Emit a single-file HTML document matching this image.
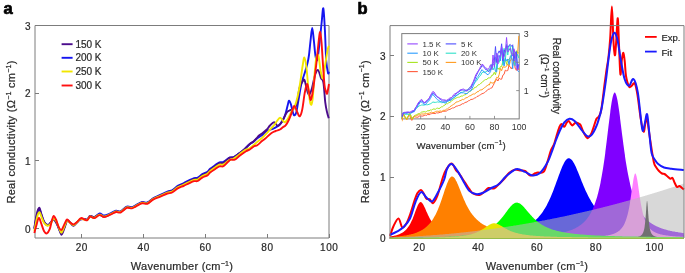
<!DOCTYPE html>
<html><head><meta charset="utf-8"><style>
html,body{margin:0;padding:0;background:#fff;}
svg{display:block;}
text{font-family:"Liberation Sans",sans-serif;fill:#2a2a2a;stroke:#2a2a2a;stroke-width:0.22px;}
.ins text{stroke:none;fill:#333;}
svg{will-change:transform;}
</style></head><body>
<svg width="685" height="273" viewBox="0 0 685 273">
<text x="3.6" y="13.7" style="font-size:16.5px;font-weight:bold;fill:#000;stroke:#000;stroke-width:0.7">a</text>
<g stroke="#7c7c7c" stroke-width="1" fill="none"><path d="M35.0 25.5 H329.0 V238.0 H35.0 Z"/></g>
<g stroke="#7c7c7c" stroke-width="1"><line x1="35.0" y1="228.5" x2="39.0" y2="228.5"/><line x1="35.0" y1="160.5" x2="39.0" y2="160.5"/><line x1="35.0" y1="93.5" x2="39.0" y2="93.5"/><line x1="35.0" y1="25.5" x2="39.0" y2="25.5"/><line x1="81.5" y1="238.0" x2="81.5" y2="234.0"/><line x1="143.5" y1="238.0" x2="143.5" y2="234.0"/><line x1="205.5" y1="238.0" x2="205.5" y2="234.0"/><line x1="267.5" y1="238.0" x2="267.5" y2="234.0"/><line x1="329.5" y1="238.0" x2="329.5" y2="234.0"/></g>
<text x="30.5" y="232.5" text-anchor="end" style="font-size:10px">0</text><text x="30.5" y="164.8" text-anchor="end" style="font-size:10px">1</text><text x="30.5" y="97.2" text-anchor="end" style="font-size:10px">2</text><text x="30.5" y="29.5" text-anchor="end" style="font-size:10px">3</text><text x="81.8" y="251.2" text-anchor="middle" style="font-size:10px;letter-spacing:0.6px">20</text><text x="143.7" y="251.2" text-anchor="middle" style="font-size:10px;letter-spacing:0.6px">40</text><text x="205.6" y="251.2" text-anchor="middle" style="font-size:10px;letter-spacing:0.6px">60</text><text x="267.4" y="251.2" text-anchor="middle" style="font-size:10px;letter-spacing:0.6px">80</text><text x="329.3" y="251.2" text-anchor="middle" style="font-size:10px;letter-spacing:0.6px">100</text>
<text x="182" y="270" text-anchor="middle" style="font-size:11px;letter-spacing:0.25px">Wavenumber (cm<tspan dy="-4.2" style="font-size:7px">−1</tspan><tspan dy="4.2">)</tspan></text>
<text transform="translate(15.0,131.9) rotate(-90)" text-anchor="middle" style="font-size:11px;letter-spacing:0.28px">Real conductivity (Ω<tspan dy="-4.2" style="font-size:7px">−1</tspan><tspan dy="4.2"> cm</tspan><tspan dy="-4.2" style="font-size:7px">−1</tspan><tspan dy="4.2">)</tspan></text>
<path d="M34.30 229.00 C34.50 227.83 34.98 224.67 35.50 222.00 C36.02 219.33 36.73 215.12 37.40 213.00 C38.07 210.88 38.85 209.05 39.50 209.30 C40.15 209.55 40.53 212.38 41.30 214.50 C42.07 216.62 43.05 220.20 44.10 222.00 C45.15 223.80 46.55 225.13 47.60 225.30 C48.65 225.47 49.40 224.05 50.40 223.00 C51.40 221.95 52.55 219.00 53.60 219.00 C54.65 219.00 55.80 221.33 56.70 223.00 C57.60 224.67 58.20 227.33 59.00 229.00 C59.80 230.67 60.62 233.25 61.50 233.00 C62.38 232.75 63.37 229.58 64.30 227.50 C65.23 225.42 66.15 221.33 67.10 220.50 C68.05 219.67 68.95 221.70 70.00 222.50 C71.05 223.30 72.27 225.30 73.40 225.30 C74.53 225.30 75.65 223.50 76.80 222.50 C77.95 221.50 79.02 219.88 80.30 219.30 C81.58 218.72 83.33 218.97 84.50 219.00 C85.67 219.03 86.37 220.00 87.30 219.50 C88.23 219.00 88.95 216.37 90.10 216.00 C91.25 215.63 92.62 217.73 94.20 217.30 C95.78 216.87 97.93 213.71 99.60 213.41 C101.27 213.12 102.40 215.55 104.20 215.54 C106.00 215.53 108.43 214.14 110.40 213.35 C112.37 212.56 114.30 211.14 116.00 210.80 C117.70 210.45 118.80 211.97 120.60 211.28 C122.40 210.60 124.92 207.36 126.80 206.67 C128.68 205.98 130.37 207.42 131.90 207.15 C133.43 206.88 134.28 205.89 136.00 205.04 C137.72 204.19 140.32 202.44 142.20 202.02 C144.08 201.60 145.48 203.15 147.30 202.51 C149.12 201.87 150.93 199.46 153.10 198.20 C155.27 196.94 157.92 196.06 160.30 194.96 C162.68 193.85 165.43 192.34 167.40 191.57 C169.37 190.80 170.38 191.26 172.10 190.32 C173.82 189.38 175.75 187.13 177.70 185.92 C179.65 184.71 181.92 183.98 183.80 183.05 C185.68 182.12 187.28 181.18 189.00 180.34 C190.72 179.50 192.65 178.48 194.10 178.04 C195.55 177.59 196.33 178.35 197.70 177.69 C199.07 177.04 200.68 175.11 202.30 174.12 C203.92 173.12 206.10 172.61 207.40 171.73 C208.70 170.85 208.78 169.95 210.10 168.84 C211.42 167.72 213.75 166.14 215.30 165.05 C216.85 163.96 218.03 162.82 219.40 162.30 C220.77 161.79 221.80 162.72 223.50 161.95 C225.20 161.19 227.90 158.49 229.60 157.70 C231.30 156.91 232.17 157.88 233.70 157.20 C235.23 156.52 237.25 154.72 238.80 153.60 C240.35 152.48 241.17 152.10 243.00 150.50 C244.83 148.90 248.05 145.45 249.80 144.00 C251.55 142.55 252.40 142.65 253.50 141.80 C254.60 140.95 254.98 139.98 256.40 138.90 C257.82 137.82 260.27 136.62 262.00 135.30 C263.73 133.98 265.02 132.08 266.80 131.00 C268.58 129.92 271.00 129.53 272.70 128.80 C274.40 128.07 275.78 127.33 277.00 126.60 C278.22 125.87 278.90 125.75 280.00 124.40 C281.10 123.05 282.63 120.45 283.60 118.50 C284.57 116.55 285.07 115.13 285.80 112.70 C286.53 110.27 287.45 105.92 288.00 103.90 C288.55 101.88 288.60 100.48 289.10 100.60 C289.60 100.72 290.32 102.47 291.00 104.60 C291.68 106.73 292.60 111.62 293.20 113.40 C293.80 115.18 294.07 115.55 294.60 115.30 C295.13 115.05 295.75 114.45 296.40 111.90 C297.05 109.35 297.67 104.68 298.50 100.00 C299.33 95.32 300.32 88.48 301.40 83.80 C302.48 79.12 304.00 75.27 305.00 71.90 C306.00 68.53 306.73 66.42 307.40 63.60 C308.07 60.78 308.47 58.93 309.00 55.00 C309.53 51.07 310.07 44.50 310.60 40.00 C311.13 35.50 311.67 28.00 312.20 28.00 C312.73 28.00 313.25 35.33 313.80 40.00 C314.35 44.67 314.92 52.67 315.50 56.00 C316.08 59.33 316.67 61.83 317.30 60.00 C317.93 58.17 318.60 51.00 319.30 45.00 C320.00 39.00 320.83 30.12 321.50 24.00 C322.17 17.88 322.73 7.30 323.30 8.30 C323.87 9.30 324.42 21.38 324.90 30.00 C325.38 38.62 325.68 52.83 326.20 60.00 C326.72 67.17 327.53 71.08 328.00 73.00 C328.47 74.92 328.83 71.75 329.00 71.50" fill="none" stroke="#1515f0" stroke-width="1.9" stroke-linejoin="round"/>
<path d="M34.30 228.50 C34.50 227.25 34.98 223.83 35.50 221.00 C36.02 218.17 36.73 213.68 37.40 211.50 C38.07 209.32 38.85 207.50 39.50 207.90 C40.15 208.30 40.53 211.62 41.30 213.90 C42.07 216.18 43.05 219.75 44.10 221.60 C45.15 223.45 46.55 224.77 47.60 225.00 C48.65 225.23 49.40 223.92 50.40 223.00 C51.40 222.08 52.55 219.38 53.60 219.50 C54.65 219.62 55.80 222.12 56.70 223.70 C57.60 225.28 58.20 227.15 59.00 229.00 C59.80 230.85 60.62 234.88 61.50 234.80 C62.38 234.72 63.37 230.82 64.30 228.50 C65.23 226.18 66.15 221.90 67.10 220.90 C68.05 219.90 68.95 221.70 70.00 222.50 C71.05 223.30 72.27 225.70 73.40 225.70 C74.53 225.70 75.65 223.53 76.80 222.50 C77.95 221.47 79.02 220.08 80.30 219.50 C81.58 218.92 83.33 219.00 84.50 219.00 C85.67 219.00 86.37 220.00 87.30 219.50 C88.23 219.00 88.95 216.42 90.10 216.00 C91.25 215.58 92.62 217.20 94.20 217.00 C95.78 216.80 97.93 214.83 99.60 214.80 C101.27 214.77 102.40 216.89 104.20 216.80 C106.00 216.71 108.43 215.15 110.40 214.24 C112.37 213.33 114.30 211.77 116.00 211.34 C117.70 210.92 118.80 212.41 120.60 211.70 C122.40 210.99 124.92 207.78 126.80 207.10 C128.68 206.42 130.37 207.87 131.90 207.60 C133.43 207.33 134.28 206.35 136.00 205.50 C137.72 204.65 140.32 202.92 142.20 202.50 C144.08 202.08 145.48 203.63 147.30 203.00 C149.12 202.37 150.93 199.97 153.10 198.74 C155.27 197.50 157.92 196.67 160.30 195.59 C162.68 194.52 165.43 193.05 167.40 192.30 C169.37 191.56 170.38 192.03 172.10 191.12 C173.82 190.20 175.75 187.98 177.70 186.79 C179.65 185.60 181.92 184.88 183.80 183.97 C185.68 183.05 187.28 182.11 189.00 181.29 C190.72 180.46 192.65 179.44 194.10 179.01 C195.55 178.57 196.33 179.33 197.70 178.68 C199.07 178.03 200.68 176.10 202.30 175.11 C203.92 174.11 206.10 173.59 207.40 172.70 C208.70 171.82 208.78 170.92 210.10 169.80 C211.42 168.68 213.75 167.08 215.30 165.99 C216.85 164.89 218.03 163.75 219.40 163.22 C220.77 162.70 221.80 163.78 223.50 162.86 C225.20 161.94 227.90 158.64 229.60 157.70 C231.30 156.76 232.17 157.88 233.70 157.20 C235.23 156.52 237.25 154.72 238.80 153.60 C240.35 152.48 241.17 152.10 243.00 150.50 C244.83 148.90 248.05 145.50 249.80 144.00 C251.55 142.50 252.40 142.42 253.50 141.50 C254.60 140.58 255.48 139.50 256.40 138.50 C257.32 137.50 258.00 136.38 259.00 135.50 C260.00 134.62 261.10 134.20 262.40 133.20 C263.70 132.20 265.53 130.78 266.80 129.50 C268.07 128.22 268.78 126.72 270.00 125.50 C271.22 124.28 272.80 122.15 274.10 122.20 C275.40 122.25 276.45 125.93 277.80 125.80 C279.15 125.67 280.73 123.58 282.20 121.40 C283.67 119.22 285.38 114.52 286.60 112.70 C287.82 110.88 288.40 111.12 289.50 110.50 C290.60 109.88 291.98 110.10 293.20 109.00 C294.42 107.90 295.75 107.40 296.80 103.90 C297.85 100.40 298.53 91.75 299.50 88.00 C300.47 84.25 301.77 82.73 302.60 81.40 C303.43 80.07 303.85 78.90 304.50 80.00 C305.15 81.10 305.75 85.50 306.50 88.00 C307.25 90.50 308.08 95.00 309.00 95.00 C309.92 95.00 311.00 91.33 312.00 88.00 C313.00 84.67 314.00 78.00 315.00 75.00 C316.00 72.00 317.00 69.50 318.00 70.00 C319.00 70.50 320.10 75.92 321.00 78.00 C321.90 80.08 322.68 78.38 323.40 82.50 C324.12 86.62 324.70 97.78 325.30 102.70 C325.90 107.62 326.42 109.40 327.00 112.00 C327.58 114.60 328.50 117.25 328.80 118.30" fill="none" stroke="#4b0c8c" stroke-width="1.9" stroke-linejoin="round"/>
<path d="M34.30 231.00 C34.50 230.00 34.98 227.50 35.50 225.00 C36.02 222.50 36.73 218.13 37.40 216.00 C38.07 213.87 38.82 212.03 39.50 212.20 C40.18 212.37 40.73 215.20 41.50 217.00 C42.27 218.80 43.08 221.55 44.10 223.00 C45.12 224.45 46.55 225.53 47.60 225.70 C48.65 225.87 49.40 225.20 50.40 224.00 C51.40 222.80 52.55 218.83 53.60 218.50 C54.65 218.17 55.80 220.42 56.70 222.00 C57.60 223.58 58.20 226.22 59.00 228.00 C59.80 229.78 60.62 232.95 61.50 232.70 C62.38 232.45 63.37 228.53 64.30 226.50 C65.23 224.47 66.15 221.12 67.10 220.50 C68.05 219.88 68.95 222.05 70.00 222.80 C71.05 223.55 72.27 225.05 73.40 225.00 C74.53 224.95 75.65 223.50 76.80 222.50 C77.95 221.50 79.02 219.50 80.30 219.00 C81.58 218.50 83.33 219.33 84.50 219.50 C85.67 219.67 86.37 220.50 87.30 220.00 C88.23 219.50 88.95 216.87 90.10 216.50 C91.25 216.13 92.62 218.12 94.20 217.80 C95.78 217.48 97.93 214.80 99.60 214.60 C101.27 214.40 102.40 216.67 104.20 216.60 C106.00 216.53 108.43 215.05 110.40 214.20 C112.37 213.35 114.30 211.87 116.00 211.50 C117.70 211.13 118.80 212.68 120.60 212.00 C122.40 211.32 124.92 208.08 126.80 207.40 C128.68 206.72 130.37 208.17 131.90 207.90 C133.43 207.63 134.28 206.65 136.00 205.80 C137.72 204.95 140.32 203.22 142.20 202.80 C144.08 202.38 145.48 203.93 147.30 203.30 C149.12 202.67 150.93 200.28 153.10 199.05 C155.27 197.82 157.92 196.98 160.30 195.93 C162.68 194.87 165.43 193.43 167.40 192.71 C169.37 191.99 170.38 192.51 172.10 191.63 C173.82 190.75 175.75 188.59 177.70 187.44 C179.65 186.28 181.92 185.60 183.80 184.71 C185.68 183.81 187.28 182.88 189.00 182.08 C190.72 181.27 192.65 180.27 194.10 179.85 C195.55 179.43 196.33 180.19 197.70 179.56 C199.07 178.93 200.68 177.03 202.30 176.07 C203.92 175.11 206.10 174.66 207.40 173.81 C208.70 172.96 208.78 172.06 210.10 170.98 C211.42 169.90 213.75 168.37 215.30 167.32 C216.85 166.26 218.03 165.15 219.40 164.67 C220.77 164.18 221.97 165.11 223.50 164.42 C225.03 163.72 226.90 161.49 228.60 160.50 C230.30 159.51 231.90 159.50 233.70 158.50 C235.50 157.50 237.52 155.92 239.40 154.50 C241.28 153.08 243.23 151.08 245.00 150.00 C246.77 148.92 248.17 149.17 250.00 148.00 C251.83 146.83 254.00 144.67 256.00 143.00 C258.00 141.33 260.20 139.63 262.00 138.00 C263.80 136.37 265.38 134.70 266.80 133.20 C268.22 131.70 269.28 130.35 270.50 129.00 C271.72 127.65 273.02 126.43 274.10 125.10 C275.18 123.77 276.02 122.22 277.00 121.00 C277.98 119.78 279.02 117.85 280.00 117.80 C280.98 117.75 282.05 119.97 282.90 120.70 C283.75 121.43 284.25 122.57 285.10 122.20 C285.95 121.83 286.90 120.33 288.00 118.50 C289.10 116.67 290.60 113.15 291.70 111.20 C292.80 109.25 293.63 109.17 294.60 106.80 C295.57 104.43 296.60 100.80 297.50 97.00 C298.40 93.20 299.15 89.17 300.00 84.00 C300.85 78.83 301.87 70.42 302.60 66.00 C303.33 61.58 303.75 57.17 304.40 57.50 C305.05 57.83 305.82 62.58 306.50 68.00 C307.18 73.42 307.83 84.00 308.50 90.00 C309.17 96.00 309.83 102.33 310.50 104.00 C311.17 105.67 311.83 104.83 312.50 100.00 C313.17 95.17 313.85 82.17 314.50 75.00 C315.15 67.83 315.73 60.17 316.40 57.00 C317.07 53.83 317.82 53.83 318.50 56.00 C319.18 58.17 319.77 66.25 320.50 70.00 C321.23 73.75 322.15 79.17 322.90 78.50 C323.65 77.83 324.22 70.75 325.00 66.00 C325.78 61.25 326.93 53.37 327.60 50.00 C328.27 46.63 328.77 46.50 329.00 45.80" fill="none" stroke="#f2e600" stroke-width="1.9" stroke-linejoin="round"/>
<path d="M34.30 233.00 C34.67 231.67 35.75 227.53 36.50 225.00 C37.25 222.47 38.00 218.02 38.80 217.80 C39.60 217.58 40.42 221.45 41.30 223.70 C42.18 225.95 43.17 229.68 44.10 231.30 C45.03 232.92 45.97 233.75 46.90 233.40 C47.83 233.05 48.88 231.28 49.70 229.20 C50.52 227.12 51.15 223.10 51.80 220.90 C52.45 218.70 52.90 216.23 53.60 216.00 C54.30 215.77 55.15 217.65 56.00 219.50 C56.85 221.35 57.78 225.37 58.70 227.10 C59.62 228.83 60.57 230.35 61.50 229.90 C62.43 229.45 63.37 226.13 64.30 224.40 C65.23 222.67 66.17 219.85 67.10 219.50 C68.03 219.15 68.85 221.48 69.90 222.30 C70.95 223.12 72.25 224.40 73.40 224.40 C74.55 224.40 75.53 223.35 76.80 222.30 C78.07 221.25 79.72 218.57 81.00 218.10 C82.28 217.63 83.45 219.15 84.50 219.50 C85.55 219.85 86.37 220.67 87.30 220.20 C88.23 219.73 88.95 217.05 90.10 216.70 C91.25 216.35 92.62 218.37 94.20 218.10 C95.78 217.83 97.93 215.27 99.60 215.10 C101.27 214.93 102.40 217.17 104.20 217.10 C106.00 217.03 108.43 215.55 110.40 214.70 C112.37 213.85 114.30 212.37 116.00 212.00 C117.70 211.63 118.80 213.18 120.60 212.50 C122.40 211.82 124.92 208.58 126.80 207.90 C128.68 207.22 130.37 208.67 131.90 208.40 C133.43 208.13 134.28 207.15 136.00 206.30 C137.72 205.45 140.32 203.72 142.20 203.30 C144.08 202.88 145.48 204.42 147.30 203.80 C149.12 203.18 150.93 200.80 153.10 199.60 C155.27 198.40 157.92 197.62 160.30 196.60 C162.68 195.58 165.43 194.18 167.40 193.50 C169.37 192.82 170.38 193.35 172.10 192.50 C173.82 191.65 175.75 189.52 177.70 188.40 C179.65 187.28 181.92 186.65 183.80 185.80 C185.68 184.95 187.28 184.07 189.00 183.30 C190.72 182.53 192.65 181.58 194.10 181.20 C195.55 180.82 196.33 181.60 197.70 181.00 C199.07 180.40 200.68 178.53 202.30 177.60 C203.92 176.67 206.10 176.23 207.40 175.40 C208.70 174.57 208.78 173.67 210.10 172.60 C211.42 171.53 213.75 170.03 215.30 169.00 C216.85 167.97 218.03 166.87 219.40 166.40 C220.77 165.93 222.13 166.88 223.50 166.20 C224.87 165.52 226.42 163.38 227.60 162.30 C228.78 161.22 229.42 160.13 230.60 159.70 C231.78 159.27 233.15 160.38 234.70 159.70 C236.25 159.02 238.02 157.02 239.90 155.60 C241.78 154.18 244.35 152.22 246.00 151.20 C247.65 150.18 248.43 150.33 249.80 149.50 C251.17 148.67 252.97 146.92 254.20 146.20 C255.43 145.48 255.90 146.05 257.20 145.20 C258.50 144.35 260.65 142.22 262.00 141.10 C263.35 139.98 263.77 139.82 265.30 138.50 C266.83 137.18 269.48 134.45 271.20 133.20 C272.92 131.95 274.13 131.62 275.60 131.00 C277.07 130.38 278.78 130.12 280.00 129.50 C281.22 128.88 281.93 128.03 282.90 127.30 C283.87 126.57 284.82 126.32 285.80 125.10 C286.78 123.88 287.82 122.07 288.80 120.00 C289.78 117.93 290.80 115.03 291.70 112.70 C292.60 110.37 293.27 106.08 294.20 106.00 C295.13 105.92 296.38 110.48 297.30 112.20 C298.22 113.92 298.88 116.72 299.70 116.30 C300.52 115.88 301.37 113.55 302.20 109.70 C303.03 105.85 303.90 97.48 304.70 93.20 C305.50 88.92 306.28 84.20 307.00 84.00 C307.72 83.80 308.37 89.33 309.00 92.00 C309.63 94.67 310.13 100.33 310.80 100.00 C311.47 99.67 312.30 94.17 313.00 90.00 C313.70 85.83 314.33 80.33 315.00 75.00 C315.67 69.67 316.37 63.83 317.00 58.00 C317.63 52.17 318.27 44.33 318.80 40.00 C319.33 35.67 319.75 31.67 320.20 32.00 C320.65 32.33 321.03 36.50 321.50 42.00 C321.97 47.50 322.50 57.83 323.00 65.00 C323.50 72.17 324.03 80.67 324.50 85.00 C324.97 89.33 325.37 89.58 325.80 91.00 C326.23 92.42 326.57 94.67 327.10 93.50 C327.63 92.33 328.68 85.58 329.00 84.00" fill="none" stroke="#ff1010" stroke-width="1.9" stroke-linejoin="round"/>
<line x1="61.6" y1="44.2" x2="72.6" y2="44.2" stroke="#4b0c8c" stroke-width="1.9"/><text x="75.4" y="47.8" style="font-size:10px">150 K</text>
<line x1="61.6" y1="57.8" x2="72.6" y2="57.8" stroke="#1515f0" stroke-width="1.9"/><text x="75.4" y="61.4" style="font-size:10px">200 K</text>
<line x1="61.6" y1="71.5" x2="72.6" y2="71.5" stroke="#f2e600" stroke-width="1.9"/><text x="75.4" y="75.1" style="font-size:10px">250 K</text>
<line x1="61.6" y1="85.5" x2="72.6" y2="85.5" stroke="#ff1010" stroke-width="1.9"/><text x="75.4" y="89.1" style="font-size:10px">300 K</text>
<text x="357.4" y="13.7" style="font-size:16.5px;font-weight:bold;fill:#000;stroke:#000;stroke-width:0.7">b</text>
<path d="M389.80 238.40 L389.8 236.6 L390.5 236.5 L391.3 236.3 L392.0 236.2 L392.7 236.1 L393.5 235.9 L394.2 235.8 L394.9 235.6 L395.7 235.4 L396.4 235.2 L397.1 235.0 L397.9 234.7 L398.6 234.5 L399.4 234.2 L400.1 233.8 L400.8 233.5 L401.6 233.1 L402.3 232.7 L403.0 232.2 L403.8 231.7 L404.5 231.1 L405.2 230.5 L406.0 229.7 L406.7 229.0 L407.4 228.1 L408.2 227.1 L408.9 226.0 L409.6 224.9 L410.4 223.6 L411.1 222.1 L411.8 220.6 L412.6 218.9 L413.3 217.0 L414.1 215.1 L414.8 213.1 L415.5 211.1 L416.3 209.1 L417.0 207.2 L417.7 205.5 L418.5 204.0 L419.2 202.9 L419.9 202.3 L420.7 202.0 L421.4 202.2 L422.1 202.9 L422.9 203.9 L423.6 205.2 L424.3 206.7 L425.1 208.3 L425.8 210.0 L426.5 211.7 L427.3 213.3 L428.0 215.0 L428.8 216.5 L429.5 217.9 L430.2 219.3 L431.0 220.5 L431.7 221.6 L432.4 222.7 L433.2 223.7 L433.9 224.6 L434.6 225.4 L435.4 226.1 L436.1 226.8 L436.8 227.5 L437.6 228.1 L438.3 228.6 L439.0 229.1 L439.8 229.5 L440.5 230.0 L441.2 230.4 L442.0 230.7 L442.7 231.1 L443.5 231.4 L444.2 231.7 L444.9 232.0 L445.7 232.2 L446.4 232.4 L447.1 232.7 L447.9 232.9 L448.6 233.1 L449.3 233.3 L450.1 233.4 L450.8 233.6 L451.5 233.8 L452.3 233.9 L453.0 234.0 L453.7 234.2 L454.5 234.3 L455.2 234.4 L455.9 234.5 L456.7 234.6 L457.4 234.7 L458.2 234.8 L458.9 234.9 L459.6 235.0 L460.4 235.1 L461.1 235.2 L461.8 235.3 L462.6 235.3 L463.3 235.4 L464.0 235.5 L464.8 235.5 L465.5 235.6 L466.2 235.6 L467.0 235.7 L467.7 235.8 L468.4 235.8 L469.2 235.9 L469.9 235.9 L470.6 236.0 L471.4 236.0 L472.1 236.0 L472.9 236.1 L473.6 236.1 L474.3 236.2 L475.1 236.2 L475.8 236.2 L476.5 236.3 L477.3 236.3 L478.0 236.3 L478.7 236.4 L479.5 236.4 L480.2 236.4 L480.9 236.5 L481.7 236.5 L482.4 236.5 L483.1 236.5 L483.9 236.6 L484.6 236.6 L485.3 236.6 L486.1 236.6 L486.8 236.7 L487.6 236.7 L488.3 236.7 L489.0 236.7 L489.8 236.7 L490.5 236.8 L491.2 236.8 L492.0 236.8 L492.7 236.8 L493.4 236.8 L494.2 236.8 L494.9 236.9 L495.6 236.9 L496.4 236.9 L497.1 236.9 L497.8 236.9 L498.6 236.9 L499.3 237.0 L500.0 237.0 L500.8 237.0 L501.5 237.0 L502.3 237.0 L503.0 237.0 L503.7 237.0 L504.5 237.0 L505.2 237.1 L505.9 237.1 L506.7 237.1 L507.4 237.1 L508.1 237.1 L508.9 237.1 L509.6 237.1 L510.3 237.1 L511.1 237.1 L511.8 237.2 L512.5 237.2 L513.3 237.2 L514.0 237.2 L514.8 237.2 L515.5 237.2 L516.2 237.2 L517.0 237.2 L517.7 237.2 L518.4 237.2 L519.2 237.2 L519.9 237.3 L520.6 237.3 L521.4 237.3 L522.1 237.3 L522.8 237.3 L523.6 237.3 L524.3 237.3 L525.0 237.3 L525.8 237.3 L526.5 237.3 L527.2 237.3 L528.0 237.3 L528.7 237.3 L529.4 237.3 L530.2 237.3 L530.9 237.4 L531.7 237.4 L532.4 237.4 L533.1 237.4 L533.9 237.4 L534.6 237.4 L535.3 237.4 L536.1 237.4 L536.8 237.4 L537.5 237.4 L538.3 237.4 L539.0 237.4 L539.7 237.4 L540.5 237.4 L541.2 237.4 L541.9 237.4 L542.7 237.4 L543.4 237.4 L544.1 237.4 L544.9 237.5 L545.6 237.5 L546.4 237.5 L547.1 237.5 L547.8 237.5 L548.6 237.5 L549.3 237.5 L550.0 237.5 L550.8 237.5 L551.5 237.5 L552.2 237.5 L553.0 237.5 L553.7 237.5 L554.4 237.5 L555.2 237.5 L555.9 237.5 L556.6 237.5 L557.4 237.5 L558.1 237.5 L558.8 237.5 L559.6 237.5 L560.3 237.5 L561.1 237.5 L561.8 237.5 L562.5 237.5 L563.3 237.5 L564.0 237.5 L564.7 237.5 L565.5 237.6 L566.2 237.6 L566.9 237.6 L567.7 237.6 L568.4 237.6 L569.1 237.6 L569.9 237.6 L570.6 237.6 L571.3 237.6 L572.1 237.6 L572.8 237.6 L573.5 237.6 L574.3 237.6 L575.0 237.6 L575.8 237.6 L576.5 237.6 L577.2 237.6 L578.0 237.6 L578.7 237.6 L579.4 237.6 L580.2 237.6 L580.9 237.6 L581.6 237.6 L582.4 237.6 L583.1 237.6 L583.8 237.6 L584.6 237.6 L585.3 237.6 L586.0 237.6 L586.8 237.6 L587.5 237.6 L588.2 237.6 L589.0 237.6 L589.7 237.6 L590.5 237.6 L591.2 237.6 L591.9 237.6 L592.7 237.6 L593.4 237.6 L594.1 237.6 L594.9 237.6 L595.6 237.6 L596.3 237.6 L597.1 237.7 L597.8 237.7 L598.1 237.7 L598.4 237.7 L598.7 237.7 L599.0 237.7 L599.3 237.7 L599.6 237.7 L599.9 237.7 L600.2 237.7 L600.5 237.7 L600.7 237.7 L601.0 237.7 L601.3 237.7 L601.6 237.7 L601.9 237.7 L602.2 237.7 L602.5 237.7 L602.8 237.7 L603.1 237.7 L603.4 237.7 L603.7 237.7 L604.0 237.7 L604.3 237.7 L604.6 237.7 L604.9 237.7 L605.2 237.7 L605.4 237.7 L605.7 237.7 L606.0 237.7 L606.3 237.7 L606.6 237.7 L606.9 237.7 L607.2 237.7 L607.5 237.7 L607.8 237.7 L608.1 237.7 L608.4 237.7 L608.7 237.7 L609.0 237.7 L609.3 237.7 L609.6 237.7 L609.9 237.7 L610.2 237.7 L610.4 237.7 L610.7 237.7 L611.0 237.7 L611.3 237.7 L611.6 237.7 L611.9 237.7 L612.2 237.7 L612.5 237.7 L612.8 237.7 L613.1 237.7 L613.4 237.7 L613.7 237.7 L614.0 237.7 L614.3 237.7 L614.6 237.7 L614.9 237.7 L615.2 237.7 L615.4 237.7 L615.7 237.7 L616.0 237.7 L616.3 237.7 L616.6 237.7 L616.9 237.7 L617.2 237.7 L617.5 237.7 L617.8 237.7 L618.1 237.7 L618.4 237.7 L618.7 237.7 L619.0 237.7 L619.3 237.7 L619.6 237.7 L619.9 237.7 L620.1 237.7 L620.4 237.7 L620.7 237.7 L621.0 237.7 L621.3 237.7 L621.6 237.7 L621.9 237.7 L622.2 237.7 L622.5 237.7 L622.8 237.7 L623.1 237.7 L623.4 237.7 L623.7 237.7 L624.0 237.7 L624.3 237.7 L624.6 237.7 L624.9 237.7 L625.1 237.7 L625.4 237.7 L625.7 237.7 L626.0 237.7 L626.3 237.7 L626.6 237.7 L626.9 237.7 L627.2 237.7 L627.5 237.7 L627.8 237.7 L628.1 237.7 L628.4 237.7 L628.7 237.7 L629.0 237.7 L629.3 237.7 L629.6 237.7 L629.9 237.7 L630.1 237.7 L630.4 237.7 L630.7 237.7 L631.0 237.7 L631.3 237.7 L631.6 237.7 L631.9 237.7 L632.2 237.7 L632.5 237.7 L632.8 237.7 L633.1 237.7 L633.4 237.7 L633.7 237.7 L634.0 237.7 L634.3 237.7 L634.6 237.7 L634.8 237.7 L635.1 237.7 L635.4 237.7 L635.7 237.7 L636.0 237.7 L636.3 237.7 L636.6 237.7 L636.9 237.7 L637.2 237.7 L637.5 237.7 L637.8 237.7 L638.1 237.7 L638.4 237.7 L638.5 237.7 L638.7 237.7 L638.8 237.7 L639.0 237.7 L639.1 237.7 L639.3 237.7 L639.4 237.7 L639.6 237.7 L639.7 237.7 L639.8 237.7 L640.0 237.7 L640.1 237.7 L640.3 237.7 L640.4 237.7 L640.6 237.7 L640.7 237.7 L640.9 237.7 L641.0 237.7 L641.2 237.7 L641.3 237.7 L641.5 237.7 L641.6 237.7 L641.8 237.7 L641.9 237.7 L642.1 237.7 L642.2 237.7 L642.3 237.7 L642.5 237.7 L642.6 237.7 L642.8 237.7 L642.9 237.7 L643.1 237.7 L643.2 237.7 L643.4 237.7 L643.5 237.7 L643.7 237.7 L643.8 237.7 L644.0 237.7 L644.1 237.7 L644.3 237.7 L644.4 237.7 L644.6 237.7 L644.7 237.7 L644.8 237.7 L645.0 237.7 L645.1 237.7 L645.3 237.7 L645.4 237.7 L645.6 237.7 L645.7 237.7 L645.9 237.7 L646.0 237.7 L646.2 237.7 L646.3 237.7 L646.5 237.7 L646.6 237.7 L646.8 237.7 L646.9 237.7 L647.0 237.7 L647.2 237.7 L647.3 237.7 L647.5 237.7 L647.6 237.7 L647.8 237.7 L647.9 237.7 L648.1 237.7 L648.2 237.7 L648.4 237.7 L648.5 237.7 L648.7 237.7 L648.8 237.7 L649.0 237.7 L649.1 237.7 L649.3 237.7 L649.4 237.7 L649.5 237.7 L649.7 237.7 L649.8 237.7 L650.0 237.7 L650.1 237.7 L650.3 237.7 L650.4 237.7 L650.6 237.7 L650.7 237.7 L650.9 237.7 L651.0 237.7 L651.2 237.7 L651.3 237.7 L651.5 237.7 L651.6 237.7 L651.8 237.7 L651.9 237.7 L652.0 237.7 L652.2 237.7 L652.3 237.7 L652.5 237.7 L652.6 237.7 L652.8 237.7 L652.9 237.7 L653.1 237.7 L653.2 237.7 L653.4 237.7 L653.5 237.7 L653.7 237.7 L653.8 237.7 L654.0 237.7 L654.1 237.7 L654.3 237.7 L654.4 237.7 L654.5 237.7 L654.7 237.7 L654.8 237.7 L655.0 237.7 L655.1 237.7 L655.3 237.7 L655.4 237.7 L655.6 237.7 L655.7 237.7 L655.9 237.7 L656.0 237.7 L656.3 237.7 L656.6 237.7 L656.9 237.7 L657.2 237.7 L657.5 237.7 L657.8 237.7 L658.1 237.7 L658.4 237.7 L658.7 237.8 L659.0 237.8 L659.3 237.8 L659.5 237.8 L659.8 237.8 L660.1 237.8 L660.4 237.8 L660.7 237.8 L661.0 237.8 L661.3 237.8 L661.6 237.8 L661.9 237.8 L662.2 237.8 L662.5 237.8 L662.8 237.8 L663.1 237.8 L663.4 237.8 L663.7 237.8 L664.0 237.8 L664.2 237.8 L664.5 237.8 L664.8 237.8 L665.6 237.8 L666.3 237.8 L667.0 237.8 L667.8 237.8 L668.5 237.8 L669.2 237.8 L670.0 237.8 L670.7 237.8 L671.5 237.8 L672.2 237.8 L672.9 237.8 L673.7 237.8 L674.4 237.8 L675.1 237.8 L675.9 237.8 L676.6 237.8 L677.3 237.8 L678.1 237.8 L678.8 237.8 L679.5 237.8 L680.3 237.8 L681.0 237.8 L681.7 237.8 L682.5 237.8 L683.2 237.8 L683.8 237.8 L683.80 238.40 Z" fill="#ff0000"/>
<path d="M389.80 238.40 L389.8 237.1 L390.5 237.1 L391.3 237.0 L392.0 237.0 L392.7 236.9 L393.5 236.9 L394.2 236.8 L394.9 236.8 L395.7 236.7 L396.4 236.6 L397.1 236.6 L397.9 236.5 L398.6 236.4 L399.4 236.3 L400.1 236.2 L400.8 236.1 L401.6 236.0 L402.3 235.9 L403.0 235.8 L403.8 235.7 L404.5 235.6 L405.2 235.5 L406.0 235.4 L406.7 235.2 L407.4 235.1 L408.2 235.0 L408.9 234.8 L409.6 234.6 L410.4 234.5 L411.1 234.3 L411.8 234.1 L412.6 233.9 L413.3 233.7 L414.1 233.5 L414.8 233.2 L415.5 233.0 L416.3 232.7 L417.0 232.4 L417.7 232.1 L418.5 231.8 L419.2 231.5 L419.9 231.1 L420.7 230.7 L421.4 230.3 L422.1 229.9 L422.9 229.5 L423.6 229.0 L424.3 228.5 L425.1 227.9 L425.8 227.3 L426.5 226.7 L427.3 226.0 L428.0 225.3 L428.8 224.6 L429.5 223.8 L430.2 222.9 L431.0 222.0 L431.7 221.0 L432.4 219.9 L433.2 218.8 L433.9 217.6 L434.6 216.3 L435.4 214.9 L436.1 213.5 L436.8 211.9 L437.6 210.3 L438.3 208.5 L439.0 206.7 L439.8 204.8 L440.5 202.8 L441.2 200.7 L442.0 198.5 L442.7 196.3 L443.5 194.1 L444.2 191.8 L444.9 189.6 L445.7 187.4 L446.4 185.4 L447.1 183.4 L447.9 181.7 L448.6 180.1 L449.3 178.8 L450.1 177.7 L450.8 177.0 L451.5 176.6 L452.3 176.5 L453.0 176.7 L453.7 177.2 L454.5 178.0 L455.2 179.1 L455.9 180.4 L456.7 181.8 L457.4 183.4 L458.2 185.2 L458.9 187.0 L459.6 188.8 L460.4 190.7 L461.1 192.5 L461.8 194.4 L462.6 196.2 L463.3 198.0 L464.0 199.7 L464.8 201.3 L465.5 202.9 L466.2 204.5 L467.0 205.9 L467.7 207.3 L468.4 208.6 L469.2 209.9 L469.9 211.0 L470.6 212.2 L471.4 213.2 L472.1 214.3 L472.9 215.2 L473.6 216.1 L474.3 217.0 L475.1 217.8 L475.8 218.6 L476.5 219.3 L477.3 220.0 L478.0 220.6 L478.7 221.2 L479.5 221.8 L480.2 222.4 L480.9 222.9 L481.7 223.4 L482.4 223.9 L483.1 224.4 L483.9 224.8 L484.6 225.2 L485.3 225.6 L486.1 226.0 L486.8 226.4 L487.6 226.7 L488.3 227.0 L489.0 227.3 L489.8 227.6 L490.5 227.9 L491.2 228.2 L492.0 228.5 L492.7 228.7 L493.4 229.0 L494.2 229.2 L494.9 229.4 L495.6 229.6 L496.4 229.8 L497.1 230.0 L497.8 230.2 L498.6 230.4 L499.3 230.6 L500.0 230.8 L500.8 230.9 L501.5 231.1 L502.3 231.2 L503.0 231.4 L503.7 231.5 L504.5 231.7 L505.2 231.8 L505.9 231.9 L506.7 232.0 L507.4 232.2 L508.1 232.3 L508.9 232.4 L509.6 232.5 L510.3 232.6 L511.1 232.7 L511.8 232.8 L512.5 232.9 L513.3 233.0 L514.0 233.1 L514.8 233.2 L515.5 233.3 L516.2 233.3 L517.0 233.4 L517.7 233.5 L518.4 233.6 L519.2 233.7 L519.9 233.7 L520.6 233.8 L521.4 233.9 L522.1 233.9 L522.8 234.0 L523.6 234.1 L524.3 234.1 L525.0 234.2 L525.8 234.2 L526.5 234.3 L527.2 234.4 L528.0 234.4 L528.7 234.5 L529.4 234.5 L530.2 234.6 L530.9 234.6 L531.7 234.7 L532.4 234.7 L533.1 234.8 L533.9 234.8 L534.6 234.8 L535.3 234.9 L536.1 234.9 L536.8 235.0 L537.5 235.0 L538.3 235.0 L539.0 235.1 L539.7 235.1 L540.5 235.2 L541.2 235.2 L541.9 235.2 L542.7 235.3 L543.4 235.3 L544.1 235.3 L544.9 235.4 L545.6 235.4 L546.4 235.4 L547.1 235.5 L547.8 235.5 L548.6 235.5 L549.3 235.5 L550.0 235.6 L550.8 235.6 L551.5 235.6 L552.2 235.7 L553.0 235.7 L553.7 235.7 L554.4 235.7 L555.2 235.8 L555.9 235.8 L556.6 235.8 L557.4 235.8 L558.1 235.9 L558.8 235.9 L559.6 235.9 L560.3 235.9 L561.1 235.9 L561.8 236.0 L562.5 236.0 L563.3 236.0 L564.0 236.0 L564.7 236.0 L565.5 236.1 L566.2 236.1 L566.9 236.1 L567.7 236.1 L568.4 236.1 L569.1 236.2 L569.9 236.2 L570.6 236.2 L571.3 236.2 L572.1 236.2 L572.8 236.2 L573.5 236.3 L574.3 236.3 L575.0 236.3 L575.8 236.3 L576.5 236.3 L577.2 236.3 L578.0 236.3 L578.7 236.4 L579.4 236.4 L580.2 236.4 L580.9 236.4 L581.6 236.4 L582.4 236.4 L583.1 236.4 L583.8 236.5 L584.6 236.5 L585.3 236.5 L586.0 236.5 L586.8 236.5 L587.5 236.5 L588.2 236.5 L589.0 236.5 L589.7 236.6 L590.5 236.6 L591.2 236.6 L591.9 236.6 L592.7 236.6 L593.4 236.6 L594.1 236.6 L594.9 236.6 L595.6 236.6 L596.3 236.7 L597.1 236.7 L597.8 236.7 L598.1 236.7 L598.4 236.7 L598.7 236.7 L599.0 236.7 L599.3 236.7 L599.6 236.7 L599.9 236.7 L600.2 236.7 L600.5 236.7 L600.7 236.7 L601.0 236.7 L601.3 236.7 L601.6 236.7 L601.9 236.7 L602.2 236.7 L602.5 236.7 L602.8 236.7 L603.1 236.7 L603.4 236.7 L603.7 236.8 L604.0 236.8 L604.3 236.8 L604.6 236.8 L604.9 236.8 L605.2 236.8 L605.4 236.8 L605.7 236.8 L606.0 236.8 L606.3 236.8 L606.6 236.8 L606.9 236.8 L607.2 236.8 L607.5 236.8 L607.8 236.8 L608.1 236.8 L608.4 236.8 L608.7 236.8 L609.0 236.8 L609.3 236.8 L609.6 236.8 L609.9 236.8 L610.2 236.8 L610.4 236.8 L610.7 236.8 L611.0 236.8 L611.3 236.8 L611.6 236.8 L611.9 236.8 L612.2 236.8 L612.5 236.9 L612.8 236.9 L613.1 236.9 L613.4 236.9 L613.7 236.9 L614.0 236.9 L614.3 236.9 L614.6 236.9 L614.9 236.9 L615.2 236.9 L615.4 236.9 L615.7 236.9 L616.0 236.9 L616.3 236.9 L616.6 236.9 L616.9 236.9 L617.2 236.9 L617.5 236.9 L617.8 236.9 L618.1 236.9 L618.4 236.9 L618.7 236.9 L619.0 236.9 L619.3 236.9 L619.6 236.9 L619.9 236.9 L620.1 236.9 L620.4 236.9 L620.7 236.9 L621.0 236.9 L621.3 236.9 L621.6 236.9 L621.9 236.9 L622.2 236.9 L622.5 237.0 L622.8 237.0 L623.1 237.0 L623.4 237.0 L623.7 237.0 L624.0 237.0 L624.3 237.0 L624.6 237.0 L624.9 237.0 L625.1 237.0 L625.4 237.0 L625.7 237.0 L626.0 237.0 L626.3 237.0 L626.6 237.0 L626.9 237.0 L627.2 237.0 L627.5 237.0 L627.8 237.0 L628.1 237.0 L628.4 237.0 L628.7 237.0 L629.0 237.0 L629.3 237.0 L629.6 237.0 L629.9 237.0 L630.1 237.0 L630.4 237.0 L630.7 237.0 L631.0 237.0 L631.3 237.0 L631.6 237.0 L631.9 237.0 L632.2 237.0 L632.5 237.0 L632.8 237.0 L633.1 237.0 L633.4 237.0 L633.7 237.0 L634.0 237.0 L634.3 237.0 L634.6 237.1 L634.8 237.1 L635.1 237.1 L635.4 237.1 L635.7 237.1 L636.0 237.1 L636.3 237.1 L636.6 237.1 L636.9 237.1 L637.2 237.1 L637.5 237.1 L637.8 237.1 L638.1 237.1 L638.4 237.1 L638.5 237.1 L638.7 237.1 L638.8 237.1 L639.0 237.1 L639.1 237.1 L639.3 237.1 L639.4 237.1 L639.6 237.1 L639.7 237.1 L639.8 237.1 L640.0 237.1 L640.1 237.1 L640.3 237.1 L640.4 237.1 L640.6 237.1 L640.7 237.1 L640.9 237.1 L641.0 237.1 L641.2 237.1 L641.3 237.1 L641.5 237.1 L641.6 237.1 L641.8 237.1 L641.9 237.1 L642.1 237.1 L642.2 237.1 L642.3 237.1 L642.5 237.1 L642.6 237.1 L642.8 237.1 L642.9 237.1 L643.1 237.1 L643.2 237.1 L643.4 237.1 L643.5 237.1 L643.7 237.1 L643.8 237.1 L644.0 237.1 L644.1 237.1 L644.3 237.1 L644.4 237.1 L644.6 237.1 L644.7 237.1 L644.8 237.1 L645.0 237.1 L645.1 237.1 L645.3 237.1 L645.4 237.1 L645.6 237.1 L645.7 237.1 L645.9 237.1 L646.0 237.1 L646.2 237.1 L646.3 237.1 L646.5 237.1 L646.6 237.1 L646.8 237.1 L646.9 237.1 L647.0 237.1 L647.2 237.1 L647.3 237.1 L647.5 237.1 L647.6 237.1 L647.8 237.1 L647.9 237.1 L648.1 237.1 L648.2 237.1 L648.4 237.1 L648.5 237.1 L648.7 237.1 L648.8 237.2 L649.0 237.2 L649.1 237.2 L649.3 237.2 L649.4 237.2 L649.5 237.2 L649.7 237.2 L649.8 237.2 L650.0 237.2 L650.1 237.2 L650.3 237.2 L650.4 237.2 L650.6 237.2 L650.7 237.2 L650.9 237.2 L651.0 237.2 L651.2 237.2 L651.3 237.2 L651.5 237.2 L651.6 237.2 L651.8 237.2 L651.9 237.2 L652.0 237.2 L652.2 237.2 L652.3 237.2 L652.5 237.2 L652.6 237.2 L652.8 237.2 L652.9 237.2 L653.1 237.2 L653.2 237.2 L653.4 237.2 L653.5 237.2 L653.7 237.2 L653.8 237.2 L654.0 237.2 L654.1 237.2 L654.3 237.2 L654.4 237.2 L654.5 237.2 L654.7 237.2 L654.8 237.2 L655.0 237.2 L655.1 237.2 L655.3 237.2 L655.4 237.2 L655.6 237.2 L655.7 237.2 L655.9 237.2 L656.0 237.2 L656.3 237.2 L656.6 237.2 L656.9 237.2 L657.2 237.2 L657.5 237.2 L657.8 237.2 L658.1 237.2 L658.4 237.2 L658.7 237.2 L659.0 237.2 L659.3 237.2 L659.5 237.2 L659.8 237.2 L660.1 237.2 L660.4 237.2 L660.7 237.2 L661.0 237.2 L661.3 237.2 L661.6 237.2 L661.9 237.2 L662.2 237.2 L662.5 237.2 L662.8 237.2 L663.1 237.2 L663.4 237.2 L663.7 237.2 L664.0 237.2 L664.2 237.2 L664.5 237.2 L664.8 237.2 L665.6 237.2 L666.3 237.2 L667.0 237.3 L667.8 237.3 L668.5 237.3 L669.2 237.3 L670.0 237.3 L670.7 237.3 L671.5 237.3 L672.2 237.3 L672.9 237.3 L673.7 237.3 L674.4 237.3 L675.1 237.3 L675.9 237.3 L676.6 237.3 L677.3 237.3 L678.1 237.3 L678.8 237.3 L679.5 237.3 L680.3 237.3 L681.0 237.3 L681.7 237.3 L682.5 237.3 L683.2 237.3 L683.8 237.3 L683.80 238.40 Z" fill="#ff8000"/>
<path d="M389.80 238.40 L389.8 237.8 L390.5 237.8 L391.3 237.8 L392.0 237.8 L392.7 237.8 L393.5 237.8 L394.2 237.8 L394.9 237.8 L395.7 237.8 L396.4 237.8 L397.1 237.8 L397.9 237.8 L398.6 237.8 L399.4 237.8 L400.1 237.8 L400.8 237.8 L401.6 237.8 L402.3 237.8 L403.0 237.8 L403.8 237.8 L404.5 237.8 L405.2 237.8 L406.0 237.8 L406.7 237.7 L407.4 237.7 L408.2 237.7 L408.9 237.7 L409.6 237.7 L410.4 237.7 L411.1 237.7 L411.8 237.7 L412.6 237.7 L413.3 237.7 L414.1 237.7 L414.8 237.7 L415.5 237.7 L416.3 237.7 L417.0 237.7 L417.7 237.7 L418.5 237.6 L419.2 237.6 L419.9 237.6 L420.7 237.6 L421.4 237.6 L422.1 237.6 L422.9 237.6 L423.6 237.6 L424.3 237.6 L425.1 237.6 L425.8 237.6 L426.5 237.6 L427.3 237.5 L428.0 237.5 L428.8 237.5 L429.5 237.5 L430.2 237.5 L431.0 237.5 L431.7 237.5 L432.4 237.5 L433.2 237.5 L433.9 237.4 L434.6 237.4 L435.4 237.4 L436.1 237.4 L436.8 237.4 L437.6 237.4 L438.3 237.4 L439.0 237.4 L439.8 237.3 L440.5 237.3 L441.2 237.3 L442.0 237.3 L442.7 237.3 L443.5 237.3 L444.2 237.3 L444.9 237.2 L445.7 237.2 L446.4 237.2 L447.1 237.2 L447.9 237.2 L448.6 237.2 L449.3 237.1 L450.1 237.1 L450.8 237.1 L451.5 237.1 L452.3 237.1 L453.0 237.1 L453.7 237.0 L454.5 237.0 L455.2 237.0 L455.9 237.0 L456.7 236.9 L457.4 236.9 L458.2 236.9 L458.9 236.9 L459.6 236.9 L460.4 236.8 L461.1 236.8 L461.8 236.8 L462.6 236.8 L463.3 236.7 L464.0 236.7 L464.8 236.7 L465.5 236.6 L466.2 236.6 L467.0 236.6 L467.7 236.5 L468.4 236.5 L469.2 236.5 L469.9 236.5 L470.6 236.4 L471.4 236.4 L472.1 236.3 L472.9 236.3 L473.6 236.3 L474.3 236.2 L475.1 236.2 L475.8 236.2 L476.5 236.1 L477.3 236.1 L478.0 236.0 L478.7 236.0 L479.5 235.9 L480.2 235.9 L480.9 235.8 L481.7 235.8 L482.4 235.7 L483.1 235.7 L483.9 235.6 L484.6 235.6 L485.3 235.5 L486.1 235.5 L486.8 235.4 L487.6 235.3 L488.3 235.3 L489.0 235.2 L489.8 235.1 L490.5 235.1 L491.2 235.0 L492.0 234.9 L492.7 234.9 L493.4 234.8 L494.2 234.7 L494.9 234.6 L495.6 234.5 L496.4 234.4 L497.1 234.4 L497.8 234.3 L498.6 234.2 L499.3 234.1 L500.0 234.0 L500.8 233.9 L501.5 233.7 L502.3 233.6 L503.0 233.5 L503.7 233.4 L504.5 233.3 L505.2 233.2 L505.9 233.0 L506.7 232.9 L507.4 232.7 L508.1 232.6 L508.9 232.4 L509.6 232.3 L510.3 232.1 L511.1 232.0 L511.8 231.8 L512.5 231.6 L513.3 231.4 L514.0 231.2 L514.8 231.0 L515.5 230.8 L516.2 230.6 L517.0 230.4 L517.7 230.1 L518.4 229.9 L519.2 229.6 L519.9 229.4 L520.6 229.1 L521.4 228.8 L522.1 228.5 L522.8 228.2 L523.6 227.9 L524.3 227.6 L525.0 227.2 L525.8 226.8 L526.5 226.5 L527.2 226.1 L528.0 225.6 L528.7 225.2 L529.4 224.8 L530.2 224.3 L530.9 223.8 L531.7 223.3 L532.4 222.7 L533.1 222.2 L533.9 221.6 L534.6 221.0 L535.3 220.3 L536.1 219.6 L536.8 218.9 L537.5 218.2 L538.3 217.4 L539.0 216.6 L539.7 215.7 L540.5 214.8 L541.2 213.9 L541.9 212.9 L542.7 211.9 L543.4 210.8 L544.1 209.6 L544.9 208.4 L545.6 207.2 L546.4 205.9 L547.1 204.5 L547.8 203.1 L548.6 201.6 L549.3 200.1 L550.0 198.5 L550.8 196.8 L551.5 195.1 L552.2 193.3 L553.0 191.5 L553.7 189.6 L554.4 187.6 L555.2 185.6 L555.9 183.6 L556.6 181.6 L557.4 179.5 L558.1 177.5 L558.8 175.4 L559.6 173.4 L560.3 171.4 L561.1 169.5 L561.8 167.7 L562.5 166.0 L563.3 164.4 L564.0 163.0 L564.7 161.7 L565.5 160.6 L566.2 159.7 L566.9 159.0 L567.7 158.5 L568.4 158.3 L569.1 158.3 L569.9 158.5 L570.6 158.9 L571.3 159.5 L572.1 160.3 L572.8 161.3 L573.5 162.5 L574.3 163.8 L575.0 165.3 L575.8 166.8 L576.5 168.5 L577.2 170.2 L578.0 172.0 L578.7 173.8 L579.4 175.6 L580.2 177.5 L580.9 179.3 L581.6 181.2 L582.4 183.0 L583.1 184.7 L583.8 186.5 L584.6 188.2 L585.3 189.9 L586.0 191.5 L586.8 193.1 L587.5 194.6 L588.2 196.0 L589.0 197.5 L589.7 198.8 L590.5 200.1 L591.2 201.4 L591.9 202.6 L592.7 203.8 L593.4 204.9 L594.1 206.0 L594.9 207.0 L595.6 208.0 L596.3 209.0 L597.1 209.9 L597.8 210.8 L598.1 211.1 L598.4 211.4 L598.7 211.8 L599.0 212.1 L599.3 212.4 L599.6 212.7 L599.9 213.0 L600.2 213.3 L600.5 213.6 L600.7 213.9 L601.0 214.2 L601.3 214.5 L601.6 214.8 L601.9 215.0 L602.2 215.3 L602.5 215.6 L602.8 215.8 L603.1 216.1 L603.4 216.3 L603.7 216.6 L604.0 216.8 L604.3 217.1 L604.6 217.3 L604.9 217.5 L605.2 217.8 L605.4 218.0 L605.7 218.2 L606.0 218.4 L606.3 218.6 L606.6 218.9 L606.9 219.1 L607.2 219.3 L607.5 219.5 L607.8 219.7 L608.1 219.9 L608.4 220.1 L608.7 220.2 L609.0 220.4 L609.3 220.6 L609.6 220.8 L609.9 221.0 L610.2 221.2 L610.4 221.3 L610.7 221.5 L611.0 221.7 L611.3 221.8 L611.6 222.0 L611.9 222.2 L612.2 222.3 L612.5 222.5 L612.8 222.6 L613.1 222.8 L613.4 222.9 L613.7 223.1 L614.0 223.2 L614.3 223.4 L614.6 223.5 L614.9 223.6 L615.2 223.8 L615.4 223.9 L615.7 224.0 L616.0 224.2 L616.3 224.3 L616.6 224.4 L616.9 224.5 L617.2 224.7 L617.5 224.8 L617.8 224.9 L618.1 225.0 L618.4 225.1 L618.7 225.3 L619.0 225.4 L619.3 225.5 L619.6 225.6 L619.9 225.7 L620.1 225.8 L620.4 225.9 L620.7 226.0 L621.0 226.1 L621.3 226.2 L621.6 226.3 L621.9 226.4 L622.2 226.5 L622.5 226.6 L622.8 226.7 L623.1 226.8 L623.4 226.9 L623.7 227.0 L624.0 227.1 L624.3 227.2 L624.6 227.3 L624.9 227.4 L625.1 227.5 L625.4 227.5 L625.7 227.6 L626.0 227.7 L626.3 227.8 L626.6 227.9 L626.9 227.9 L627.2 228.0 L627.5 228.1 L627.8 228.2 L628.1 228.3 L628.4 228.3 L628.7 228.4 L629.0 228.5 L629.3 228.6 L629.6 228.6 L629.9 228.7 L630.1 228.8 L630.4 228.8 L630.7 228.9 L631.0 229.0 L631.3 229.0 L631.6 229.1 L631.9 229.2 L632.2 229.2 L632.5 229.3 L632.8 229.4 L633.1 229.4 L633.4 229.5 L633.7 229.6 L634.0 229.6 L634.3 229.7 L634.6 229.7 L634.8 229.8 L635.1 229.8 L635.4 229.9 L635.7 230.0 L636.0 230.0 L636.3 230.1 L636.6 230.1 L636.9 230.2 L637.2 230.2 L637.5 230.3 L637.8 230.3 L638.1 230.4 L638.4 230.4 L638.5 230.5 L638.7 230.5 L638.8 230.5 L639.0 230.5 L639.1 230.6 L639.3 230.6 L639.4 230.6 L639.6 230.6 L639.7 230.7 L639.8 230.7 L640.0 230.7 L640.1 230.7 L640.3 230.8 L640.4 230.8 L640.6 230.8 L640.7 230.8 L640.9 230.9 L641.0 230.9 L641.2 230.9 L641.3 230.9 L641.5 231.0 L641.6 231.0 L641.8 231.0 L641.9 231.0 L642.1 231.0 L642.2 231.1 L642.3 231.1 L642.5 231.1 L642.6 231.1 L642.8 231.2 L642.9 231.2 L643.1 231.2 L643.2 231.2 L643.4 231.2 L643.5 231.3 L643.7 231.3 L643.8 231.3 L644.0 231.3 L644.1 231.3 L644.3 231.4 L644.4 231.4 L644.6 231.4 L644.7 231.4 L644.8 231.4 L645.0 231.5 L645.1 231.5 L645.3 231.5 L645.4 231.5 L645.6 231.5 L645.7 231.6 L645.9 231.6 L646.0 231.6 L646.2 231.6 L646.3 231.6 L646.5 231.7 L646.6 231.7 L646.8 231.7 L646.9 231.7 L647.0 231.7 L647.2 231.8 L647.3 231.8 L647.5 231.8 L647.6 231.8 L647.8 231.8 L647.9 231.9 L648.1 231.9 L648.2 231.9 L648.4 231.9 L648.5 231.9 L648.7 231.9 L648.8 232.0 L649.0 232.0 L649.1 232.0 L649.3 232.0 L649.4 232.0 L649.5 232.1 L649.7 232.1 L649.8 232.1 L650.0 232.1 L650.1 232.1 L650.3 232.1 L650.4 232.2 L650.6 232.2 L650.7 232.2 L650.9 232.2 L651.0 232.2 L651.2 232.2 L651.3 232.3 L651.5 232.3 L651.6 232.3 L651.8 232.3 L651.9 232.3 L652.0 232.3 L652.2 232.4 L652.3 232.4 L652.5 232.4 L652.6 232.4 L652.8 232.4 L652.9 232.4 L653.1 232.4 L653.2 232.5 L653.4 232.5 L653.5 232.5 L653.7 232.5 L653.8 232.5 L654.0 232.5 L654.1 232.6 L654.3 232.6 L654.4 232.6 L654.5 232.6 L654.7 232.6 L654.8 232.6 L655.0 232.6 L655.1 232.7 L655.3 232.7 L655.4 232.7 L655.6 232.7 L655.7 232.7 L655.9 232.7 L656.0 232.7 L656.3 232.8 L656.6 232.8 L656.9 232.8 L657.2 232.9 L657.5 232.9 L657.8 232.9 L658.1 232.9 L658.4 233.0 L658.7 233.0 L659.0 233.0 L659.3 233.0 L659.5 233.1 L659.8 233.1 L660.1 233.1 L660.4 233.1 L660.7 233.2 L661.0 233.2 L661.3 233.2 L661.6 233.2 L661.9 233.3 L662.2 233.3 L662.5 233.3 L662.8 233.3 L663.1 233.4 L663.4 233.4 L663.7 233.4 L664.0 233.4 L664.2 233.5 L664.5 233.5 L664.8 233.5 L665.6 233.6 L666.3 233.6 L667.0 233.7 L667.8 233.7 L668.5 233.8 L669.2 233.8 L670.0 233.9 L670.7 233.9 L671.5 234.0 L672.2 234.0 L672.9 234.0 L673.7 234.1 L674.4 234.1 L675.1 234.2 L675.9 234.2 L676.6 234.3 L677.3 234.3 L678.1 234.3 L678.8 234.4 L679.5 234.4 L680.3 234.5 L681.0 234.5 L681.7 234.5 L682.5 234.6 L683.2 234.6 L683.8 234.6 L683.80 238.40 Z" fill="#0000ff"/>
<path d="M389.80 238.40 L389.8 237.9 L390.5 237.9 L391.3 237.9 L392.0 237.9 L392.7 237.9 L393.5 237.9 L394.2 237.9 L394.9 237.9 L395.7 237.9 L396.4 237.9 L397.1 237.9 L397.9 237.9 L398.6 237.9 L399.4 237.9 L400.1 237.9 L400.8 237.9 L401.6 237.9 L402.3 237.9 L403.0 237.9 L403.8 237.9 L404.5 237.9 L405.2 237.9 L406.0 237.9 L406.7 237.9 L407.4 237.9 L408.2 237.9 L408.9 237.9 L409.6 237.9 L410.4 237.9 L411.1 237.8 L411.8 237.8 L412.6 237.8 L413.3 237.8 L414.1 237.8 L414.8 237.8 L415.5 237.8 L416.3 237.8 L417.0 237.8 L417.7 237.8 L418.5 237.8 L419.2 237.8 L419.9 237.8 L420.7 237.8 L421.4 237.8 L422.1 237.8 L422.9 237.8 L423.6 237.8 L424.3 237.8 L425.1 237.8 L425.8 237.8 L426.5 237.8 L427.3 237.8 L428.0 237.8 L428.8 237.8 L429.5 237.8 L430.2 237.8 L431.0 237.8 L431.7 237.8 L432.4 237.8 L433.2 237.8 L433.9 237.8 L434.6 237.8 L435.4 237.8 L436.1 237.8 L436.8 237.8 L437.6 237.8 L438.3 237.8 L439.0 237.8 L439.8 237.8 L440.5 237.8 L441.2 237.8 L442.0 237.7 L442.7 237.7 L443.5 237.7 L444.2 237.7 L444.9 237.7 L445.7 237.7 L446.4 237.7 L447.1 237.7 L447.9 237.7 L448.6 237.7 L449.3 237.7 L450.1 237.7 L450.8 237.7 L451.5 237.7 L452.3 237.7 L453.0 237.7 L453.7 237.7 L454.5 237.7 L455.2 237.7 L455.9 237.7 L456.7 237.7 L457.4 237.7 L458.2 237.7 L458.9 237.7 L459.6 237.7 L460.4 237.6 L461.1 237.6 L461.8 237.6 L462.6 237.6 L463.3 237.6 L464.0 237.6 L464.8 237.6 L465.5 237.6 L466.2 237.6 L467.0 237.6 L467.7 237.6 L468.4 237.6 L469.2 237.6 L469.9 237.6 L470.6 237.6 L471.4 237.6 L472.1 237.6 L472.9 237.5 L473.6 237.5 L474.3 237.5 L475.1 237.5 L475.8 237.5 L476.5 237.5 L477.3 237.5 L478.0 237.5 L478.7 237.5 L479.5 237.5 L480.2 237.5 L480.9 237.5 L481.7 237.5 L482.4 237.4 L483.1 237.4 L483.9 237.4 L484.6 237.4 L485.3 237.4 L486.1 237.4 L486.8 237.4 L487.6 237.4 L488.3 237.4 L489.0 237.4 L489.8 237.3 L490.5 237.3 L491.2 237.3 L492.0 237.3 L492.7 237.3 L493.4 237.3 L494.2 237.3 L494.9 237.3 L495.6 237.3 L496.4 237.2 L497.1 237.2 L497.8 237.2 L498.6 237.2 L499.3 237.2 L500.0 237.2 L500.8 237.2 L501.5 237.1 L502.3 237.1 L503.0 237.1 L503.7 237.1 L504.5 237.1 L505.2 237.1 L505.9 237.0 L506.7 237.0 L507.4 237.0 L508.1 237.0 L508.9 237.0 L509.6 237.0 L510.3 236.9 L511.1 236.9 L511.8 236.9 L512.5 236.9 L513.3 236.9 L514.0 236.8 L514.8 236.8 L515.5 236.8 L516.2 236.8 L517.0 236.7 L517.7 236.7 L518.4 236.7 L519.2 236.7 L519.9 236.6 L520.6 236.6 L521.4 236.6 L522.1 236.6 L522.8 236.5 L523.6 236.5 L524.3 236.5 L525.0 236.4 L525.8 236.4 L526.5 236.4 L527.2 236.3 L528.0 236.3 L528.7 236.3 L529.4 236.2 L530.2 236.2 L530.9 236.2 L531.7 236.1 L532.4 236.1 L533.1 236.0 L533.9 236.0 L534.6 236.0 L535.3 235.9 L536.1 235.9 L536.8 235.8 L537.5 235.8 L538.3 235.7 L539.0 235.7 L539.7 235.6 L540.5 235.6 L541.2 235.5 L541.9 235.4 L542.7 235.4 L543.4 235.3 L544.1 235.2 L544.9 235.2 L545.6 235.1 L546.4 235.0 L547.1 235.0 L547.8 234.9 L548.6 234.8 L549.3 234.7 L550.0 234.6 L550.8 234.6 L551.5 234.5 L552.2 234.4 L553.0 234.3 L553.7 234.2 L554.4 234.1 L555.2 234.0 L555.9 233.8 L556.6 233.7 L557.4 233.6 L558.1 233.5 L558.8 233.3 L559.6 233.2 L560.3 233.1 L561.1 232.9 L561.8 232.8 L562.5 232.6 L563.3 232.4 L564.0 232.3 L564.7 232.1 L565.5 231.9 L566.2 231.7 L566.9 231.5 L567.7 231.3 L568.4 231.0 L569.1 230.8 L569.9 230.5 L570.6 230.3 L571.3 230.0 L572.1 229.7 L572.8 229.4 L573.5 229.1 L574.3 228.8 L575.0 228.4 L575.8 228.0 L576.5 227.6 L577.2 227.2 L578.0 226.8 L578.7 226.3 L579.4 225.8 L580.2 225.3 L580.9 224.8 L581.6 224.2 L582.4 223.6 L583.1 222.9 L583.8 222.2 L584.6 221.5 L585.3 220.7 L586.0 219.9 L586.8 219.0 L587.5 218.0 L588.2 217.0 L589.0 215.9 L589.7 214.8 L590.5 213.5 L591.2 212.2 L591.9 210.7 L592.7 209.2 L593.4 207.5 L594.1 205.7 L594.9 203.7 L595.6 201.6 L596.3 199.4 L597.1 196.9 L597.8 194.3 L598.1 193.2 L598.4 192.0 L598.7 190.8 L599.0 189.6 L599.3 188.3 L599.6 187.0 L599.9 185.7 L600.2 184.3 L600.5 182.9 L600.7 181.4 L601.0 179.9 L601.3 178.3 L601.6 176.7 L601.9 175.0 L602.2 173.3 L602.5 171.6 L602.8 169.7 L603.1 167.9 L603.4 166.0 L603.7 164.0 L604.0 162.0 L604.3 160.0 L604.6 157.9 L604.9 155.7 L605.2 153.5 L605.4 151.3 L605.7 149.0 L606.0 146.7 L606.3 144.3 L606.6 141.9 L606.9 139.5 L607.2 137.0 L607.5 134.6 L607.8 132.1 L608.1 129.6 L608.4 127.1 L608.7 124.6 L609.0 122.2 L609.3 119.8 L609.6 117.4 L609.9 115.0 L610.2 112.7 L610.4 110.5 L610.7 108.4 L611.0 106.3 L611.3 104.4 L611.6 102.5 L611.9 100.8 L612.2 99.2 L612.5 97.8 L612.8 96.5 L613.1 95.4 L613.4 94.5 L613.7 93.8 L614.0 93.2 L614.3 92.8 L614.6 92.6 L614.9 92.6 L615.2 92.8 L615.4 93.2 L615.7 93.7 L616.0 94.5 L616.3 95.4 L616.6 96.5 L616.9 97.7 L617.2 99.1 L617.5 100.6 L617.8 102.3 L618.1 104.1 L618.4 106.0 L618.7 107.9 L619.0 110.0 L619.3 112.1 L619.6 114.3 L619.9 116.5 L620.1 118.8 L620.4 121.1 L620.7 123.5 L621.0 125.8 L621.3 128.2 L621.6 130.5 L621.9 132.9 L622.2 135.2 L622.5 137.6 L622.8 139.8 L623.1 142.1 L623.4 144.4 L623.7 146.6 L624.0 148.7 L624.3 150.9 L624.6 153.0 L624.9 155.0 L625.1 157.0 L625.4 159.0 L625.7 160.9 L626.0 162.7 L626.3 164.6 L626.6 166.3 L626.9 168.1 L627.2 169.8 L627.5 171.4 L627.8 173.0 L628.1 174.6 L628.4 176.1 L628.7 177.5 L629.0 179.0 L629.3 180.3 L629.6 181.7 L629.9 183.0 L630.1 184.3 L630.4 185.5 L630.7 186.7 L631.0 187.9 L631.3 189.0 L631.6 190.1 L631.9 191.2 L632.2 192.2 L632.5 193.2 L632.8 194.2 L633.1 195.1 L633.4 196.1 L633.7 197.0 L634.0 197.8 L634.3 198.7 L634.6 199.5 L634.8 200.3 L635.1 201.1 L635.4 201.8 L635.7 202.5 L636.0 203.2 L636.3 203.9 L636.6 204.6 L636.9 205.3 L637.2 205.9 L637.5 206.5 L637.8 207.1 L638.1 207.7 L638.4 208.3 L638.5 208.6 L638.7 208.8 L638.8 209.1 L639.0 209.4 L639.1 209.6 L639.3 209.9 L639.4 210.2 L639.6 210.4 L639.7 210.7 L639.8 210.9 L640.0 211.2 L640.1 211.4 L640.3 211.6 L640.4 211.9 L640.6 212.1 L640.7 212.3 L640.9 212.6 L641.0 212.8 L641.2 213.0 L641.3 213.2 L641.5 213.4 L641.6 213.6 L641.8 213.9 L641.9 214.1 L642.1 214.3 L642.2 214.5 L642.3 214.7 L642.5 214.9 L642.6 215.1 L642.8 215.2 L642.9 215.4 L643.1 215.6 L643.2 215.8 L643.4 216.0 L643.5 216.2 L643.7 216.4 L643.8 216.5 L644.0 216.7 L644.1 216.9 L644.3 217.0 L644.4 217.2 L644.6 217.4 L644.7 217.5 L644.8 217.7 L645.0 217.9 L645.1 218.0 L645.3 218.2 L645.4 218.3 L645.6 218.5 L645.7 218.6 L645.9 218.8 L646.0 218.9 L646.2 219.1 L646.3 219.2 L646.5 219.4 L646.6 219.5 L646.8 219.6 L646.9 219.8 L647.0 219.9 L647.2 220.1 L647.3 220.2 L647.5 220.3 L647.6 220.5 L647.8 220.6 L647.9 220.7 L648.1 220.8 L648.2 221.0 L648.4 221.1 L648.5 221.2 L648.7 221.3 L648.8 221.4 L649.0 221.6 L649.1 221.7 L649.3 221.8 L649.4 221.9 L649.5 222.0 L649.7 222.1 L649.8 222.2 L650.0 222.4 L650.1 222.5 L650.3 222.6 L650.4 222.7 L650.6 222.8 L650.7 222.9 L650.9 223.0 L651.0 223.1 L651.2 223.2 L651.3 223.3 L651.5 223.4 L651.6 223.5 L651.8 223.6 L651.9 223.7 L652.0 223.8 L652.2 223.9 L652.3 224.0 L652.5 224.1 L652.6 224.1 L652.8 224.2 L652.9 224.3 L653.1 224.4 L653.2 224.5 L653.4 224.6 L653.5 224.7 L653.7 224.8 L653.8 224.8 L654.0 224.9 L654.1 225.0 L654.3 225.1 L654.4 225.2 L654.5 225.3 L654.7 225.3 L654.8 225.4 L655.0 225.5 L655.1 225.6 L655.3 225.6 L655.4 225.7 L655.6 225.8 L655.7 225.9 L655.9 225.9 L656.0 226.0 L656.3 226.2 L656.6 226.3 L656.9 226.4 L657.2 226.6 L657.5 226.7 L657.8 226.8 L658.1 227.0 L658.4 227.1 L658.7 227.2 L659.0 227.3 L659.3 227.5 L659.5 227.6 L659.8 227.7 L660.1 227.8 L660.4 227.9 L660.7 228.0 L661.0 228.1 L661.3 228.2 L661.6 228.4 L661.9 228.5 L662.2 228.6 L662.5 228.7 L662.8 228.8 L663.1 228.9 L663.4 228.9 L663.7 229.0 L664.0 229.1 L664.2 229.2 L664.5 229.3 L664.8 229.4 L665.6 229.6 L666.3 229.8 L667.0 230.0 L667.8 230.2 L668.5 230.4 L669.2 230.6 L670.0 230.7 L670.7 230.9 L671.5 231.1 L672.2 231.2 L672.9 231.4 L673.7 231.5 L674.4 231.6 L675.1 231.8 L675.9 231.9 L676.6 232.0 L677.3 232.1 L678.1 232.3 L678.8 232.4 L679.5 232.5 L680.3 232.6 L681.0 232.7 L681.7 232.8 L682.5 232.9 L683.2 233.0 L683.8 233.1 L683.80 238.40 Z" fill="#8000ff"/>
<path d="M389.80 238.40 L389.8 237.9 L390.5 237.9 L391.3 237.9 L392.0 237.9 L392.7 237.9 L393.5 237.9 L394.2 237.9 L394.9 237.9 L395.7 237.9 L396.4 237.9 L397.1 237.9 L397.9 237.9 L398.6 237.9 L399.4 237.9 L400.1 237.9 L400.8 237.9 L401.6 237.9 L402.3 237.9 L403.0 237.9 L403.8 237.9 L404.5 237.9 L405.2 237.9 L406.0 237.9 L406.7 237.9 L407.4 237.9 L408.2 237.9 L408.9 237.9 L409.6 237.9 L410.4 237.9 L411.1 237.9 L411.8 237.9 L412.6 237.9 L413.3 237.9 L414.1 237.9 L414.8 237.9 L415.5 237.9 L416.3 237.9 L417.0 237.9 L417.7 237.9 L418.5 237.9 L419.2 237.9 L419.9 237.9 L420.7 237.9 L421.4 237.9 L422.1 237.9 L422.9 237.9 L423.6 237.9 L424.3 237.9 L425.1 237.9 L425.8 237.9 L426.5 237.9 L427.3 237.9 L428.0 237.9 L428.8 237.9 L429.5 237.9 L430.2 237.9 L431.0 237.9 L431.7 237.9 L432.4 237.9 L433.2 237.9 L433.9 237.9 L434.6 237.9 L435.4 237.9 L436.1 237.9 L436.8 237.9 L437.6 237.9 L438.3 237.9 L439.0 237.9 L439.8 237.9 L440.5 237.9 L441.2 237.9 L442.0 237.9 L442.7 237.9 L443.5 237.9 L444.2 237.9 L444.9 237.9 L445.7 237.9 L446.4 237.9 L447.1 237.9 L447.9 237.9 L448.6 237.9 L449.3 237.9 L450.1 237.9 L450.8 237.9 L451.5 237.9 L452.3 237.9 L453.0 237.9 L453.7 237.9 L454.5 237.9 L455.2 237.9 L455.9 237.9 L456.7 237.9 L457.4 237.9 L458.2 237.9 L458.9 237.9 L459.6 237.9 L460.4 237.9 L461.1 237.9 L461.8 237.9 L462.6 237.9 L463.3 237.9 L464.0 237.9 L464.8 237.9 L465.5 237.9 L466.2 237.9 L467.0 237.9 L467.7 237.9 L468.4 237.9 L469.2 237.9 L469.9 237.9 L470.6 237.9 L471.4 237.9 L472.1 237.9 L472.9 237.9 L473.6 237.9 L474.3 237.9 L475.1 237.9 L475.8 237.9 L476.5 237.9 L477.3 237.9 L478.0 237.9 L478.7 237.9 L479.5 237.9 L480.2 237.9 L480.9 237.9 L481.7 237.9 L482.4 237.9 L483.1 237.9 L483.9 237.9 L484.6 237.9 L485.3 237.9 L486.1 237.9 L486.8 237.9 L487.6 237.9 L488.3 237.9 L489.0 237.9 L489.8 237.9 L490.5 237.9 L491.2 237.9 L492.0 237.9 L492.7 237.9 L493.4 237.9 L494.2 237.9 L494.9 237.9 L495.6 237.9 L496.4 237.8 L497.1 237.8 L497.8 237.8 L498.6 237.8 L499.3 237.8 L500.0 237.8 L500.8 237.8 L501.5 237.8 L502.3 237.8 L503.0 237.8 L503.7 237.8 L504.5 237.8 L505.2 237.8 L505.9 237.8 L506.7 237.8 L507.4 237.8 L508.1 237.8 L508.9 237.8 L509.6 237.8 L510.3 237.8 L511.1 237.8 L511.8 237.8 L512.5 237.8 L513.3 237.8 L514.0 237.8 L514.8 237.8 L515.5 237.8 L516.2 237.8 L517.0 237.8 L517.7 237.8 L518.4 237.8 L519.2 237.8 L519.9 237.8 L520.6 237.8 L521.4 237.8 L522.1 237.8 L522.8 237.8 L523.6 237.8 L524.3 237.8 L525.0 237.8 L525.8 237.8 L526.5 237.8 L527.2 237.8 L528.0 237.8 L528.7 237.8 L529.4 237.8 L530.2 237.8 L530.9 237.8 L531.7 237.8 L532.4 237.8 L533.1 237.8 L533.9 237.8 L534.6 237.8 L535.3 237.8 L536.1 237.8 L536.8 237.8 L537.5 237.8 L538.3 237.8 L539.0 237.8 L539.7 237.7 L540.5 237.7 L541.2 237.7 L541.9 237.7 L542.7 237.7 L543.4 237.7 L544.1 237.7 L544.9 237.7 L545.6 237.7 L546.4 237.7 L547.1 237.7 L547.8 237.7 L548.6 237.7 L549.3 237.7 L550.0 237.7 L550.8 237.7 L551.5 237.7 L552.2 237.7 L553.0 237.7 L553.7 237.7 L554.4 237.7 L555.2 237.7 L555.9 237.7 L556.6 237.7 L557.4 237.6 L558.1 237.6 L558.8 237.6 L559.6 237.6 L560.3 237.6 L561.1 237.6 L561.8 237.6 L562.5 237.6 L563.3 237.6 L564.0 237.6 L564.7 237.6 L565.5 237.6 L566.2 237.6 L566.9 237.6 L567.7 237.5 L568.4 237.5 L569.1 237.5 L569.9 237.5 L570.6 237.5 L571.3 237.5 L572.1 237.5 L572.8 237.5 L573.5 237.5 L574.3 237.4 L575.0 237.4 L575.8 237.4 L576.5 237.4 L577.2 237.4 L578.0 237.4 L578.7 237.4 L579.4 237.3 L580.2 237.3 L580.9 237.3 L581.6 237.3 L582.4 237.3 L583.1 237.3 L583.8 237.2 L584.6 237.2 L585.3 237.2 L586.0 237.2 L586.8 237.1 L587.5 237.1 L588.2 237.1 L589.0 237.1 L589.7 237.0 L590.5 237.0 L591.2 237.0 L591.9 236.9 L592.7 236.9 L593.4 236.8 L594.1 236.8 L594.9 236.8 L595.6 236.7 L596.3 236.7 L597.1 236.6 L597.8 236.6 L598.1 236.5 L598.4 236.5 L598.7 236.5 L599.0 236.5 L599.3 236.4 L599.6 236.4 L599.9 236.4 L600.2 236.4 L600.5 236.3 L600.7 236.3 L601.0 236.3 L601.3 236.3 L601.6 236.2 L601.9 236.2 L602.2 236.2 L602.5 236.1 L602.8 236.1 L603.1 236.1 L603.4 236.0 L603.7 236.0 L604.0 236.0 L604.3 235.9 L604.6 235.9 L604.9 235.8 L605.2 235.8 L605.4 235.8 L605.7 235.7 L606.0 235.7 L606.3 235.6 L606.6 235.6 L606.9 235.5 L607.2 235.5 L607.5 235.4 L607.8 235.4 L608.1 235.3 L608.4 235.2 L608.7 235.2 L609.0 235.1 L609.3 235.1 L609.6 235.0 L609.9 234.9 L610.2 234.9 L610.4 234.8 L610.7 234.7 L611.0 234.6 L611.3 234.5 L611.6 234.5 L611.9 234.4 L612.2 234.3 L612.5 234.2 L612.8 234.1 L613.1 234.0 L613.4 233.9 L613.7 233.8 L614.0 233.7 L614.3 233.6 L614.6 233.4 L614.9 233.3 L615.2 233.2 L615.4 233.1 L615.7 232.9 L616.0 232.8 L616.3 232.6 L616.6 232.5 L616.9 232.3 L617.2 232.1 L617.5 231.9 L617.8 231.7 L618.1 231.5 L618.4 231.3 L618.7 231.1 L619.0 230.9 L619.3 230.7 L619.6 230.4 L619.9 230.1 L620.1 229.9 L620.4 229.6 L620.7 229.3 L621.0 229.0 L621.3 228.6 L621.6 228.3 L621.9 227.9 L622.2 227.5 L622.5 227.1 L622.8 226.7 L623.1 226.2 L623.4 225.7 L623.7 225.2 L624.0 224.7 L624.3 224.1 L624.6 223.5 L624.9 222.8 L625.1 222.1 L625.4 221.4 L625.7 220.7 L626.0 219.8 L626.3 219.0 L626.6 218.1 L626.9 217.1 L627.2 216.0 L627.5 214.9 L627.8 213.8 L628.1 212.5 L628.4 211.2 L628.7 209.8 L629.0 208.4 L629.3 206.8 L629.6 205.2 L629.9 203.5 L630.1 201.7 L630.4 199.8 L630.7 197.9 L631.0 195.9 L631.3 193.8 L631.6 191.7 L631.9 189.6 L632.2 187.5 L632.5 185.4 L632.8 183.4 L633.1 181.5 L633.4 179.6 L633.7 178.0 L634.0 176.6 L634.3 175.4 L634.6 174.4 L634.8 173.8 L635.1 173.5 L635.4 173.5 L635.7 173.8 L636.0 174.4 L636.3 175.4 L636.6 176.5 L636.9 178.0 L637.2 179.6 L637.5 181.3 L637.8 183.2 L638.1 185.2 L638.4 187.3 L638.5 188.3 L638.7 189.3 L638.8 190.4 L639.0 191.4 L639.1 192.4 L639.3 193.4 L639.4 194.4 L639.6 195.4 L639.7 196.4 L639.8 197.4 L640.0 198.3 L640.1 199.3 L640.3 200.2 L640.4 201.1 L640.6 202.0 L640.7 202.9 L640.9 203.7 L641.0 204.5 L641.2 205.3 L641.3 206.1 L641.5 206.9 L641.6 207.6 L641.8 208.4 L641.9 209.1 L642.1 209.8 L642.2 210.4 L642.3 211.1 L642.5 211.7 L642.6 212.3 L642.8 212.9 L642.9 213.5 L643.1 214.1 L643.2 214.6 L643.4 215.2 L643.5 215.7 L643.7 216.2 L643.8 216.7 L644.0 217.2 L644.1 217.6 L644.3 218.1 L644.4 218.5 L644.6 218.9 L644.7 219.4 L644.8 219.8 L645.0 220.1 L645.1 220.5 L645.3 220.9 L645.4 221.2 L645.6 221.6 L645.7 221.9 L645.9 222.3 L646.0 222.6 L646.2 222.9 L646.3 223.2 L646.5 223.5 L646.6 223.8 L646.8 224.0 L646.9 224.3 L647.0 224.6 L647.2 224.8 L647.3 225.1 L647.5 225.3 L647.6 225.6 L647.8 225.8 L647.9 226.0 L648.1 226.2 L648.2 226.4 L648.4 226.6 L648.5 226.9 L648.7 227.0 L648.8 227.2 L649.0 227.4 L649.1 227.6 L649.3 227.8 L649.4 228.0 L649.5 228.1 L649.7 228.3 L649.8 228.5 L650.0 228.6 L650.1 228.8 L650.3 228.9 L650.4 229.1 L650.6 229.2 L650.7 229.3 L650.9 229.5 L651.0 229.6 L651.2 229.7 L651.3 229.9 L651.5 230.0 L651.6 230.1 L651.8 230.2 L651.9 230.3 L652.0 230.5 L652.2 230.6 L652.3 230.7 L652.5 230.8 L652.6 230.9 L652.8 231.0 L652.9 231.1 L653.1 231.2 L653.2 231.3 L653.4 231.4 L653.5 231.5 L653.7 231.6 L653.8 231.6 L654.0 231.7 L654.1 231.8 L654.3 231.9 L654.4 232.0 L654.5 232.1 L654.7 232.1 L654.8 232.2 L655.0 232.3 L655.1 232.4 L655.3 232.4 L655.4 232.5 L655.6 232.6 L655.7 232.6 L655.9 232.7 L656.0 232.8 L656.3 232.9 L656.6 233.0 L656.9 233.1 L657.2 233.3 L657.5 233.4 L657.8 233.5 L658.1 233.6 L658.4 233.7 L658.7 233.8 L659.0 233.9 L659.3 233.9 L659.5 234.0 L659.8 234.1 L660.1 234.2 L660.4 234.3 L660.7 234.4 L661.0 234.4 L661.3 234.5 L661.6 234.6 L661.9 234.6 L662.2 234.7 L662.5 234.8 L662.8 234.8 L663.1 234.9 L663.4 234.9 L663.7 235.0 L664.0 235.0 L664.2 235.1 L664.5 235.1 L664.8 235.2 L665.6 235.3 L666.3 235.4 L667.0 235.5 L667.8 235.6 L668.5 235.7 L669.2 235.8 L670.0 235.9 L670.7 236.0 L671.5 236.0 L672.2 236.1 L672.9 236.2 L673.7 236.2 L674.4 236.3 L675.1 236.3 L675.9 236.4 L676.6 236.4 L677.3 236.5 L678.1 236.5 L678.8 236.6 L679.5 236.6 L680.3 236.7 L681.0 236.7 L681.7 236.7 L682.5 236.8 L683.2 236.8 L683.8 236.8 L683.80 238.40 Z" fill="#ff80ff"/>
<path d="M389.80 238.40 L389.8 237.9 L390.5 237.9 L391.3 237.9 L392.0 237.9 L392.7 237.9 L393.5 237.9 L394.2 237.9 L394.9 237.9 L395.7 237.9 L396.4 237.9 L397.1 237.9 L397.9 237.9 L398.6 237.9 L399.4 237.9 L400.1 237.9 L400.8 237.9 L401.6 237.9 L402.3 237.9 L403.0 237.9 L403.8 237.9 L404.5 237.9 L405.2 237.9 L406.0 237.9 L406.7 237.9 L407.4 237.9 L408.2 237.9 L408.9 237.9 L409.6 237.9 L410.4 237.9 L411.1 237.9 L411.8 237.9 L412.6 237.9 L413.3 237.9 L414.1 237.9 L414.8 237.9 L415.5 237.9 L416.3 237.9 L417.0 237.9 L417.7 237.9 L418.5 237.9 L419.2 237.9 L419.9 237.9 L420.7 237.9 L421.4 237.9 L422.1 237.9 L422.9 237.9 L423.6 237.9 L424.3 237.9 L425.1 237.9 L425.8 237.9 L426.5 237.9 L427.3 237.9 L428.0 237.9 L428.8 237.9 L429.5 237.9 L430.2 237.9 L431.0 237.9 L431.7 237.9 L432.4 237.9 L433.2 237.9 L433.9 237.9 L434.6 237.9 L435.4 237.9 L436.1 237.9 L436.8 237.9 L437.6 237.9 L438.3 237.9 L439.0 237.9 L439.8 237.9 L440.5 237.9 L441.2 237.9 L442.0 237.9 L442.7 237.9 L443.5 237.9 L444.2 237.9 L444.9 237.9 L445.7 237.9 L446.4 237.9 L447.1 237.9 L447.9 237.9 L448.6 237.9 L449.3 237.9 L450.1 237.9 L450.8 237.9 L451.5 237.9 L452.3 237.9 L453.0 237.9 L453.7 237.9 L454.5 237.9 L455.2 237.9 L455.9 237.9 L456.7 237.9 L457.4 237.9 L458.2 237.9 L458.9 237.9 L459.6 237.9 L460.4 237.9 L461.1 237.9 L461.8 237.9 L462.6 237.9 L463.3 237.9 L464.0 237.9 L464.8 237.9 L465.5 237.9 L466.2 237.9 L467.0 237.9 L467.7 237.9 L468.4 237.9 L469.2 237.9 L469.9 237.9 L470.6 237.9 L471.4 237.9 L472.1 237.9 L472.9 237.9 L473.6 237.9 L474.3 237.9 L475.1 237.9 L475.8 237.9 L476.5 237.9 L477.3 237.9 L478.0 237.9 L478.7 237.9 L479.5 237.9 L480.2 237.9 L480.9 237.9 L481.7 237.9 L482.4 237.9 L483.1 237.9 L483.9 237.9 L484.6 237.9 L485.3 237.9 L486.1 237.9 L486.8 237.9 L487.6 237.9 L488.3 237.9 L489.0 237.9 L489.8 237.9 L490.5 237.9 L491.2 237.9 L492.0 237.9 L492.7 237.9 L493.4 237.9 L494.2 237.9 L494.9 237.9 L495.6 237.9 L496.4 237.9 L497.1 237.9 L497.8 237.9 L498.6 237.9 L499.3 237.9 L500.0 237.9 L500.8 237.9 L501.5 237.9 L502.3 237.9 L503.0 237.9 L503.7 237.9 L504.5 237.9 L505.2 237.9 L505.9 237.9 L506.7 237.9 L507.4 237.9 L508.1 237.9 L508.9 237.9 L509.6 237.9 L510.3 237.9 L511.1 237.9 L511.8 237.9 L512.5 237.9 L513.3 237.9 L514.0 237.9 L514.8 237.9 L515.5 237.9 L516.2 237.9 L517.0 237.9 L517.7 237.9 L518.4 237.9 L519.2 237.9 L519.9 237.9 L520.6 237.9 L521.4 237.9 L522.1 237.9 L522.8 237.9 L523.6 237.9 L524.3 237.9 L525.0 237.9 L525.8 237.9 L526.5 237.9 L527.2 237.9 L528.0 237.9 L528.7 237.9 L529.4 237.9 L530.2 237.9 L530.9 237.9 L531.7 237.9 L532.4 237.9 L533.1 237.9 L533.9 237.9 L534.6 237.9 L535.3 237.9 L536.1 237.9 L536.8 237.9 L537.5 237.9 L538.3 237.9 L539.0 237.9 L539.7 237.9 L540.5 237.9 L541.2 237.9 L541.9 237.9 L542.7 237.9 L543.4 237.9 L544.1 237.9 L544.9 237.9 L545.6 237.9 L546.4 237.9 L547.1 237.9 L547.8 237.9 L548.6 237.9 L549.3 237.9 L550.0 237.9 L550.8 237.9 L551.5 237.9 L552.2 237.9 L553.0 237.9 L553.7 237.9 L554.4 237.9 L555.2 237.9 L555.9 237.9 L556.6 237.9 L557.4 237.9 L558.1 237.9 L558.8 237.9 L559.6 237.9 L560.3 237.9 L561.1 237.9 L561.8 237.9 L562.5 237.9 L563.3 237.9 L564.0 237.9 L564.7 237.9 L565.5 237.9 L566.2 237.9 L566.9 237.9 L567.7 237.9 L568.4 237.9 L569.1 237.9 L569.9 237.9 L570.6 237.9 L571.3 237.9 L572.1 237.9 L572.8 237.9 L573.5 237.9 L574.3 237.9 L575.0 237.9 L575.8 237.9 L576.5 237.9 L577.2 237.9 L578.0 237.9 L578.7 237.9 L579.4 237.9 L580.2 237.9 L580.9 237.9 L581.6 237.9 L582.4 237.9 L583.1 237.9 L583.8 237.9 L584.6 237.9 L585.3 237.9 L586.0 237.9 L586.8 237.9 L587.5 237.9 L588.2 237.9 L589.0 237.9 L589.7 237.9 L590.5 237.9 L591.2 237.9 L591.9 237.9 L592.7 237.9 L593.4 237.9 L594.1 237.9 L594.9 237.9 L595.6 237.9 L596.3 237.9 L597.1 237.9 L597.8 237.9 L598.1 237.9 L598.4 237.9 L598.7 237.9 L599.0 237.9 L599.3 237.9 L599.6 237.9 L599.9 237.9 L600.2 237.9 L600.5 237.9 L600.7 237.9 L601.0 237.9 L601.3 237.9 L601.6 237.9 L601.9 237.9 L602.2 237.9 L602.5 237.9 L602.8 237.9 L603.1 237.9 L603.4 237.9 L603.7 237.9 L604.0 237.9 L604.3 237.9 L604.6 237.9 L604.9 237.9 L605.2 237.9 L605.4 237.9 L605.7 237.9 L606.0 237.9 L606.3 237.9 L606.6 237.8 L606.9 237.8 L607.2 237.8 L607.5 237.8 L607.8 237.8 L608.1 237.8 L608.4 237.8 L608.7 237.8 L609.0 237.8 L609.3 237.8 L609.6 237.8 L609.9 237.8 L610.2 237.8 L610.4 237.8 L610.7 237.8 L611.0 237.8 L611.3 237.8 L611.6 237.8 L611.9 237.8 L612.2 237.8 L612.5 237.8 L612.8 237.8 L613.1 237.8 L613.4 237.8 L613.7 237.8 L614.0 237.8 L614.3 237.8 L614.6 237.8 L614.9 237.8 L615.2 237.8 L615.4 237.8 L615.7 237.8 L616.0 237.8 L616.3 237.8 L616.6 237.8 L616.9 237.8 L617.2 237.8 L617.5 237.8 L617.8 237.8 L618.1 237.8 L618.4 237.8 L618.7 237.8 L619.0 237.8 L619.3 237.8 L619.6 237.8 L619.9 237.8 L620.1 237.8 L620.4 237.8 L620.7 237.8 L621.0 237.8 L621.3 237.8 L621.6 237.8 L621.9 237.8 L622.2 237.8 L622.5 237.8 L622.8 237.8 L623.1 237.7 L623.4 237.7 L623.7 237.7 L624.0 237.7 L624.3 237.7 L624.6 237.7 L624.9 237.7 L625.1 237.7 L625.4 237.7 L625.7 237.7 L626.0 237.7 L626.3 237.7 L626.6 237.7 L626.9 237.7 L627.2 237.7 L627.5 237.7 L627.8 237.7 L628.1 237.7 L628.4 237.6 L628.7 237.6 L629.0 237.6 L629.3 237.6 L629.6 237.6 L629.9 237.6 L630.1 237.6 L630.4 237.6 L630.7 237.6 L631.0 237.5 L631.3 237.5 L631.6 237.5 L631.9 237.5 L632.2 237.5 L632.5 237.5 L632.8 237.5 L633.1 237.4 L633.4 237.4 L633.7 237.4 L634.0 237.4 L634.3 237.3 L634.6 237.3 L634.8 237.3 L635.1 237.3 L635.4 237.2 L635.7 237.2 L636.0 237.1 L636.3 237.1 L636.6 237.1 L636.9 237.0 L637.2 237.0 L637.5 236.9 L637.8 236.8 L638.1 236.8 L638.4 236.7 L638.5 236.6 L638.7 236.6 L638.8 236.6 L639.0 236.5 L639.1 236.5 L639.3 236.4 L639.4 236.4 L639.6 236.3 L639.7 236.2 L639.8 236.2 L640.0 236.1 L640.1 236.0 L640.3 235.9 L640.4 235.9 L640.6 235.8 L640.7 235.7 L640.9 235.6 L641.0 235.5 L641.2 235.3 L641.3 235.2 L641.5 235.1 L641.6 234.9 L641.8 234.8 L641.9 234.6 L642.1 234.4 L642.2 234.2 L642.3 234.0 L642.5 233.8 L642.6 233.6 L642.8 233.3 L642.9 233.0 L643.1 232.7 L643.2 232.3 L643.4 231.9 L643.5 231.5 L643.7 231.1 L643.8 230.5 L644.0 230.0 L644.1 229.4 L644.3 228.7 L644.4 227.9 L644.6 227.0 L644.7 226.1 L644.8 225.0 L645.0 223.8 L645.1 222.5 L645.3 221.0 L645.4 219.4 L645.6 217.6 L645.7 215.7 L645.9 213.7 L646.0 211.5 L646.2 209.3 L646.3 207.2 L646.5 205.2 L646.6 203.4 L646.8 202.0 L646.9 201.1 L647.0 200.8 L647.2 201.1 L647.3 202.0 L647.5 203.4 L647.6 205.1 L647.8 207.1 L647.9 209.3 L648.1 211.5 L648.2 213.6 L648.4 215.6 L648.5 217.5 L648.7 219.3 L648.8 220.9 L649.0 222.4 L649.1 223.7 L649.3 224.9 L649.4 225.9 L649.5 226.9 L649.7 227.7 L649.8 228.5 L650.0 229.2 L650.1 229.8 L650.3 230.4 L650.4 230.9 L650.6 231.4 L650.7 231.8 L650.9 232.2 L651.0 232.6 L651.2 232.9 L651.3 233.2 L651.5 233.4 L651.6 233.7 L651.8 233.9 L651.9 234.1 L652.0 234.3 L652.2 234.5 L652.3 234.7 L652.5 234.8 L652.6 235.0 L652.8 235.1 L652.9 235.2 L653.1 235.4 L653.2 235.5 L653.4 235.6 L653.5 235.7 L653.7 235.8 L653.8 235.8 L654.0 235.9 L654.1 236.0 L654.3 236.1 L654.4 236.1 L654.5 236.2 L654.7 236.3 L654.8 236.3 L655.0 236.4 L655.1 236.4 L655.3 236.5 L655.4 236.5 L655.6 236.6 L655.7 236.6 L655.9 236.7 L656.0 236.7 L656.3 236.8 L656.6 236.8 L656.9 236.9 L657.2 236.9 L657.5 237.0 L657.8 237.0 L658.1 237.1 L658.4 237.1 L658.7 237.2 L659.0 237.2 L659.3 237.2 L659.5 237.3 L659.8 237.3 L660.1 237.3 L660.4 237.3 L660.7 237.4 L661.0 237.4 L661.3 237.4 L661.6 237.4 L661.9 237.4 L662.2 237.5 L662.5 237.5 L662.8 237.5 L663.1 237.5 L663.4 237.5 L663.7 237.5 L664.0 237.5 L664.2 237.6 L664.5 237.6 L664.8 237.6 L665.6 237.6 L666.3 237.6 L667.0 237.6 L667.8 237.7 L668.5 237.7 L669.2 237.7 L670.0 237.7 L670.7 237.7 L671.5 237.7 L672.2 237.7 L672.9 237.7 L673.7 237.8 L674.4 237.8 L675.1 237.8 L675.9 237.8 L676.6 237.8 L677.3 237.8 L678.1 237.8 L678.8 237.8 L679.5 237.8 L680.3 237.8 L681.0 237.8 L681.7 237.8 L682.5 237.8 L683.2 237.8 L683.8 237.8 L683.80 238.40 Z" fill="#161616"/>
<path d="M389.80 238.40 L389.8 237.8 L390.5 237.8 L391.3 237.8 L392.0 237.8 L392.7 237.8 L393.5 237.8 L394.2 237.8 L394.9 237.8 L395.7 237.8 L396.4 237.8 L397.1 237.8 L397.9 237.8 L398.6 237.8 L399.4 237.8 L400.1 237.8 L400.8 237.8 L401.6 237.7 L402.3 237.7 L403.0 237.7 L403.8 237.7 L404.5 237.7 L405.2 237.7 L406.0 237.7 L406.7 237.7 L407.4 237.7 L408.2 237.7 L408.9 237.7 L409.6 237.7 L410.4 237.7 L411.1 237.7 L411.8 237.6 L412.6 237.6 L413.3 237.6 L414.1 237.6 L414.8 237.6 L415.5 237.6 L416.3 237.6 L417.0 237.6 L417.7 237.6 L418.5 237.6 L419.2 237.5 L419.9 237.5 L420.7 237.5 L421.4 237.5 L422.1 237.5 L422.9 237.5 L423.6 237.5 L424.3 237.5 L425.1 237.4 L425.8 237.4 L426.5 237.4 L427.3 237.4 L428.0 237.4 L428.8 237.4 L429.5 237.3 L430.2 237.3 L431.0 237.3 L431.7 237.3 L432.4 237.3 L433.2 237.2 L433.9 237.2 L434.6 237.2 L435.4 237.2 L436.1 237.2 L436.8 237.1 L437.6 237.1 L438.3 237.1 L439.0 237.1 L439.8 237.0 L440.5 237.0 L441.2 237.0 L442.0 237.0 L442.7 236.9 L443.5 236.9 L444.2 236.9 L444.9 236.8 L445.7 236.8 L446.4 236.8 L447.1 236.7 L447.9 236.7 L448.6 236.7 L449.3 236.6 L450.1 236.6 L450.8 236.5 L451.5 236.5 L452.3 236.4 L453.0 236.4 L453.7 236.4 L454.5 236.3 L455.2 236.2 L455.9 236.2 L456.7 236.1 L457.4 236.1 L458.2 236.0 L458.9 236.0 L459.6 235.9 L460.4 235.8 L461.1 235.8 L461.8 235.7 L462.6 235.6 L463.3 235.5 L464.0 235.5 L464.8 235.4 L465.5 235.3 L466.2 235.2 L467.0 235.1 L467.7 235.0 L468.4 234.9 L469.2 234.8 L469.9 234.7 L470.6 234.6 L471.4 234.4 L472.1 234.3 L472.9 234.2 L473.6 234.0 L474.3 233.9 L475.1 233.7 L475.8 233.6 L476.5 233.4 L477.3 233.2 L478.0 233.0 L478.7 232.8 L479.5 232.6 L480.2 232.4 L480.9 232.2 L481.7 232.0 L482.4 231.7 L483.1 231.5 L483.9 231.2 L484.6 230.9 L485.3 230.6 L486.1 230.3 L486.8 230.0 L487.6 229.6 L488.3 229.2 L489.0 228.9 L489.8 228.4 L490.5 228.0 L491.2 227.6 L492.0 227.1 L492.7 226.6 L493.4 226.1 L494.2 225.5 L494.9 224.9 L495.6 224.3 L496.4 223.7 L497.1 223.0 L497.8 222.3 L498.6 221.5 L499.3 220.8 L500.0 220.0 L500.8 219.1 L501.5 218.2 L502.3 217.3 L503.0 216.4 L503.7 215.5 L504.5 214.5 L505.2 213.5 L505.9 212.5 L506.7 211.5 L507.4 210.5 L508.1 209.5 L508.9 208.6 L509.6 207.7 L510.3 206.8 L511.1 206.0 L511.8 205.2 L512.5 204.5 L513.3 204.0 L514.0 203.5 L514.8 203.1 L515.5 202.8 L516.2 202.7 L517.0 202.6 L517.7 202.7 L518.4 202.9 L519.2 203.2 L519.9 203.6 L520.6 204.1 L521.4 204.7 L522.1 205.3 L522.8 206.0 L523.6 206.8 L524.3 207.6 L525.0 208.4 L525.8 209.3 L526.5 210.2 L527.2 211.0 L528.0 211.9 L528.7 212.8 L529.4 213.6 L530.2 214.5 L530.9 215.3 L531.7 216.1 L532.4 216.9 L533.1 217.6 L533.9 218.4 L534.6 219.1 L535.3 219.7 L536.1 220.4 L536.8 221.0 L537.5 221.6 L538.3 222.2 L539.0 222.7 L539.7 223.3 L540.5 223.8 L541.2 224.3 L541.9 224.7 L542.7 225.2 L543.4 225.6 L544.1 226.0 L544.9 226.4 L545.6 226.7 L546.4 227.1 L547.1 227.4 L547.8 227.8 L548.6 228.1 L549.3 228.4 L550.0 228.6 L550.8 228.9 L551.5 229.2 L552.2 229.4 L553.0 229.7 L553.7 229.9 L554.4 230.1 L555.2 230.3 L555.9 230.5 L556.6 230.7 L557.4 230.9 L558.1 231.1 L558.8 231.3 L559.6 231.4 L560.3 231.6 L561.1 231.8 L561.8 231.9 L562.5 232.1 L563.3 232.2 L564.0 232.3 L564.7 232.5 L565.5 232.6 L566.2 232.7 L566.9 232.8 L567.7 232.9 L568.4 233.0 L569.1 233.1 L569.9 233.2 L570.6 233.3 L571.3 233.4 L572.1 233.5 L572.8 233.6 L573.5 233.7 L574.3 233.8 L575.0 233.9 L575.8 233.9 L576.5 234.0 L577.2 234.1 L578.0 234.2 L578.7 234.2 L579.4 234.3 L580.2 234.4 L580.9 234.4 L581.6 234.5 L582.4 234.6 L583.1 234.6 L583.8 234.7 L584.6 234.7 L585.3 234.8 L586.0 234.8 L586.8 234.9 L587.5 234.9 L588.2 235.0 L589.0 235.0 L589.7 235.1 L590.5 235.1 L591.2 235.2 L591.9 235.2 L592.7 235.3 L593.4 235.3 L594.1 235.3 L594.9 235.4 L595.6 235.4 L596.3 235.4 L597.1 235.5 L597.8 235.5 L598.1 235.5 L598.4 235.5 L598.7 235.6 L599.0 235.6 L599.3 235.6 L599.6 235.6 L599.9 235.6 L600.2 235.6 L600.5 235.6 L600.7 235.7 L601.0 235.7 L601.3 235.7 L601.6 235.7 L601.9 235.7 L602.2 235.7 L602.5 235.7 L602.8 235.7 L603.1 235.7 L603.4 235.8 L603.7 235.8 L604.0 235.8 L604.3 235.8 L604.6 235.8 L604.9 235.8 L605.2 235.8 L605.4 235.8 L605.7 235.9 L606.0 235.9 L606.3 235.9 L606.6 235.9 L606.9 235.9 L607.2 235.9 L607.5 235.9 L607.8 235.9 L608.1 235.9 L608.4 235.9 L608.7 236.0 L609.0 236.0 L609.3 236.0 L609.6 236.0 L609.9 236.0 L610.2 236.0 L610.4 236.0 L610.7 236.0 L611.0 236.0 L611.3 236.0 L611.6 236.1 L611.9 236.1 L612.2 236.1 L612.5 236.1 L612.8 236.1 L613.1 236.1 L613.4 236.1 L613.7 236.1 L614.0 236.1 L614.3 236.1 L614.6 236.1 L614.9 236.2 L615.2 236.2 L615.4 236.2 L615.7 236.2 L616.0 236.2 L616.3 236.2 L616.6 236.2 L616.9 236.2 L617.2 236.2 L617.5 236.2 L617.8 236.2 L618.1 236.2 L618.4 236.2 L618.7 236.3 L619.0 236.3 L619.3 236.3 L619.6 236.3 L619.9 236.3 L620.1 236.3 L620.4 236.3 L620.7 236.3 L621.0 236.3 L621.3 236.3 L621.6 236.3 L621.9 236.3 L622.2 236.3 L622.5 236.4 L622.8 236.4 L623.1 236.4 L623.4 236.4 L623.7 236.4 L624.0 236.4 L624.3 236.4 L624.6 236.4 L624.9 236.4 L625.1 236.4 L625.4 236.4 L625.7 236.4 L626.0 236.4 L626.3 236.4 L626.6 236.4 L626.9 236.5 L627.2 236.5 L627.5 236.5 L627.8 236.5 L628.1 236.5 L628.4 236.5 L628.7 236.5 L629.0 236.5 L629.3 236.5 L629.6 236.5 L629.9 236.5 L630.1 236.5 L630.4 236.5 L630.7 236.5 L631.0 236.5 L631.3 236.5 L631.6 236.5 L631.9 236.6 L632.2 236.6 L632.5 236.6 L632.8 236.6 L633.1 236.6 L633.4 236.6 L633.7 236.6 L634.0 236.6 L634.3 236.6 L634.6 236.6 L634.8 236.6 L635.1 236.6 L635.4 236.6 L635.7 236.6 L636.0 236.6 L636.3 236.6 L636.6 236.6 L636.9 236.6 L637.2 236.6 L637.5 236.7 L637.8 236.7 L638.1 236.7 L638.4 236.7 L638.5 236.7 L638.7 236.7 L638.8 236.7 L639.0 236.7 L639.1 236.7 L639.3 236.7 L639.4 236.7 L639.6 236.7 L639.7 236.7 L639.8 236.7 L640.0 236.7 L640.1 236.7 L640.3 236.7 L640.4 236.7 L640.6 236.7 L640.7 236.7 L640.9 236.7 L641.0 236.7 L641.2 236.7 L641.3 236.7 L641.5 236.7 L641.6 236.7 L641.8 236.7 L641.9 236.7 L642.1 236.7 L642.2 236.7 L642.3 236.7 L642.5 236.7 L642.6 236.7 L642.8 236.7 L642.9 236.7 L643.1 236.7 L643.2 236.7 L643.4 236.7 L643.5 236.7 L643.7 236.7 L643.8 236.8 L644.0 236.8 L644.1 236.8 L644.3 236.8 L644.4 236.8 L644.6 236.8 L644.7 236.8 L644.8 236.8 L645.0 236.8 L645.1 236.8 L645.3 236.8 L645.4 236.8 L645.6 236.8 L645.7 236.8 L645.9 236.8 L646.0 236.8 L646.2 236.8 L646.3 236.8 L646.5 236.8 L646.6 236.8 L646.8 236.8 L646.9 236.8 L647.0 236.8 L647.2 236.8 L647.3 236.8 L647.5 236.8 L647.6 236.8 L647.8 236.8 L647.9 236.8 L648.1 236.8 L648.2 236.8 L648.4 236.8 L648.5 236.8 L648.7 236.8 L648.8 236.8 L649.0 236.8 L649.1 236.8 L649.3 236.8 L649.4 236.8 L649.5 236.8 L649.7 236.8 L649.8 236.8 L650.0 236.8 L650.1 236.8 L650.3 236.8 L650.4 236.8 L650.6 236.8 L650.7 236.8 L650.9 236.8 L651.0 236.9 L651.2 236.9 L651.3 236.9 L651.5 236.9 L651.6 236.9 L651.8 236.9 L651.9 236.9 L652.0 236.9 L652.2 236.9 L652.3 236.9 L652.5 236.9 L652.6 236.9 L652.8 236.9 L652.9 236.9 L653.1 236.9 L653.2 236.9 L653.4 236.9 L653.5 236.9 L653.7 236.9 L653.8 236.9 L654.0 236.9 L654.1 236.9 L654.3 236.9 L654.4 236.9 L654.5 236.9 L654.7 236.9 L654.8 236.9 L655.0 236.9 L655.1 236.9 L655.3 236.9 L655.4 236.9 L655.6 236.9 L655.7 236.9 L655.9 236.9 L656.0 236.9 L656.3 236.9 L656.6 236.9 L656.9 236.9 L657.2 236.9 L657.5 236.9 L657.8 236.9 L658.1 236.9 L658.4 236.9 L658.7 236.9 L659.0 236.9 L659.3 236.9 L659.5 237.0 L659.8 237.0 L660.1 237.0 L660.4 237.0 L660.7 237.0 L661.0 237.0 L661.3 237.0 L661.6 237.0 L661.9 237.0 L662.2 237.0 L662.5 237.0 L662.8 237.0 L663.1 237.0 L663.4 237.0 L663.7 237.0 L664.0 237.0 L664.2 237.0 L664.5 237.0 L664.8 237.0 L665.6 237.0 L666.3 237.0 L667.0 237.0 L667.8 237.0 L668.5 237.0 L669.2 237.0 L670.0 237.1 L670.7 237.1 L671.5 237.1 L672.2 237.1 L672.9 237.1 L673.7 237.1 L674.4 237.1 L675.1 237.1 L675.9 237.1 L676.6 237.1 L677.3 237.1 L678.1 237.1 L678.8 237.1 L679.5 237.1 L680.3 237.1 L681.0 237.1 L681.7 237.1 L682.5 237.2 L683.2 237.2 L683.8 237.2 L683.80 238.40 Z" fill="#00ff00"/>
<path d="M389.80 238.40 L389.8 237.9 L390.5 237.9 L391.3 237.9 L392.0 237.9 L392.7 237.9 L393.5 237.9 L394.2 237.8 L394.9 237.8 L395.7 237.8 L396.4 237.8 L397.1 237.8 L397.9 237.8 L398.6 237.8 L399.4 237.8 L400.1 237.8 L400.8 237.8 L401.6 237.8 L402.3 237.8 L403.0 237.8 L403.8 237.8 L404.5 237.8 L405.2 237.8 L406.0 237.8 L406.7 237.8 L407.4 237.8 L408.2 237.8 L408.9 237.8 L409.6 237.8 L410.4 237.8 L411.1 237.8 L411.8 237.8 L412.6 237.8 L413.3 237.7 L414.1 237.7 L414.8 237.7 L415.5 237.7 L416.3 237.7 L417.0 237.7 L417.7 237.7 L418.5 237.7 L419.2 237.7 L419.9 237.7 L420.7 237.7 L421.4 237.7 L422.1 237.7 L422.9 237.7 L423.6 237.6 L424.3 237.6 L425.1 237.6 L425.8 237.6 L426.5 237.6 L427.3 237.6 L428.0 237.6 L428.8 237.6 L429.5 237.6 L430.2 237.5 L431.0 237.5 L431.7 237.5 L432.4 237.5 L433.2 237.5 L433.9 237.5 L434.6 237.5 L435.4 237.4 L436.1 237.4 L436.8 237.4 L437.6 237.4 L438.3 237.4 L439.0 237.4 L439.8 237.3 L440.5 237.3 L441.2 237.3 L442.0 237.3 L442.7 237.2 L443.5 237.2 L444.2 237.2 L444.9 237.2 L445.7 237.1 L446.4 237.1 L447.1 237.1 L447.9 237.0 L448.6 237.0 L449.3 237.0 L450.1 236.9 L450.8 236.9 L451.5 236.8 L452.3 236.8 L453.0 236.8 L453.7 236.7 L454.5 236.7 L455.2 236.6 L455.9 236.5 L456.7 236.5 L457.4 236.4 L458.2 236.4 L458.9 236.3 L459.6 236.2 L460.4 236.1 L461.1 236.0 L461.8 236.0 L462.6 235.9 L463.3 235.8 L464.0 235.7 L464.8 235.5 L465.5 235.4 L466.2 235.3 L467.0 235.2 L467.7 235.0 L468.4 234.9 L469.2 234.7 L469.9 234.6 L470.6 234.4 L471.4 234.2 L472.1 234.0 L472.9 233.8 L473.6 233.5 L474.3 233.3 L475.1 233.0 L475.8 232.7 L476.5 232.4 L477.3 232.1 L478.0 231.8 L478.7 231.4 L479.5 231.0 L480.2 230.6 L480.9 230.2 L481.7 229.8 L482.4 229.3 L483.1 228.9 L483.9 228.4 L484.6 227.9 L485.3 227.4 L486.1 226.9 L486.8 226.4 L487.6 225.9 L488.3 225.4 L489.0 225.0 L489.8 224.6 L490.5 224.2 L491.2 223.9 L492.0 223.6 L492.7 223.5 L493.4 223.3 L494.2 223.3 L494.9 223.3 L495.6 223.5 L496.4 223.6 L497.1 223.9 L497.8 224.1 L498.6 224.5 L499.3 224.8 L500.0 225.2 L500.8 225.7 L501.5 226.1 L502.3 226.5 L503.0 227.0 L503.7 227.4 L504.5 227.9 L505.2 228.3 L505.9 228.7 L506.7 229.1 L507.4 229.5 L508.1 229.9 L508.9 230.2 L509.6 230.6 L510.3 230.9 L511.1 231.2 L511.8 231.5 L512.5 231.8 L513.3 232.0 L514.0 232.3 L514.8 232.5 L515.5 232.7 L516.2 232.9 L517.0 233.1 L517.7 233.3 L518.4 233.5 L519.2 233.7 L519.9 233.8 L520.6 234.0 L521.4 234.1 L522.1 234.3 L522.8 234.4 L523.6 234.5 L524.3 234.6 L525.0 234.7 L525.8 234.8 L526.5 234.9 L527.2 235.0 L528.0 235.1 L528.7 235.2 L529.4 235.3 L530.2 235.4 L530.9 235.5 L531.7 235.5 L532.4 235.6 L533.1 235.7 L533.9 235.7 L534.6 235.8 L535.3 235.8 L536.1 235.9 L536.8 236.0 L537.5 236.0 L538.3 236.1 L539.0 236.1 L539.7 236.1 L540.5 236.2 L541.2 236.2 L541.9 236.3 L542.7 236.3 L543.4 236.3 L544.1 236.4 L544.9 236.4 L545.6 236.5 L546.4 236.5 L547.1 236.5 L547.8 236.5 L548.6 236.6 L549.3 236.6 L550.0 236.6 L550.8 236.7 L551.5 236.7 L552.2 236.7 L553.0 236.7 L553.7 236.8 L554.4 236.8 L555.2 236.8 L555.9 236.8 L556.6 236.8 L557.4 236.9 L558.1 236.9 L558.8 236.9 L559.6 236.9 L560.3 236.9 L561.1 237.0 L561.8 237.0 L562.5 237.0 L563.3 237.0 L564.0 237.0 L564.7 237.0 L565.5 237.0 L566.2 237.1 L566.9 237.1 L567.7 237.1 L568.4 237.1 L569.1 237.1 L569.9 237.1 L570.6 237.1 L571.3 237.1 L572.1 237.2 L572.8 237.2 L573.5 237.2 L574.3 237.2 L575.0 237.2 L575.8 237.2 L576.5 237.2 L577.2 237.2 L578.0 237.2 L578.7 237.3 L579.4 237.3 L580.2 237.3 L580.9 237.3 L581.6 237.3 L582.4 237.3 L583.1 237.3 L583.8 237.3 L584.6 237.3 L585.3 237.3 L586.0 237.3 L586.8 237.3 L587.5 237.3 L588.2 237.4 L589.0 237.4 L589.7 237.4 L590.5 237.4 L591.2 237.4 L591.9 237.4 L592.7 237.4 L593.4 237.4 L594.1 237.4 L594.9 237.4 L595.6 237.4 L596.3 237.4 L597.1 237.4 L597.8 237.4 L598.1 237.4 L598.4 237.4 L598.7 237.4 L599.0 237.4 L599.3 237.4 L599.6 237.4 L599.9 237.4 L600.2 237.5 L600.5 237.5 L600.7 237.5 L601.0 237.5 L601.3 237.5 L601.6 237.5 L601.9 237.5 L602.2 237.5 L602.5 237.5 L602.8 237.5 L603.1 237.5 L603.4 237.5 L603.7 237.5 L604.0 237.5 L604.3 237.5 L604.6 237.5 L604.9 237.5 L605.2 237.5 L605.4 237.5 L605.7 237.5 L606.0 237.5 L606.3 237.5 L606.6 237.5 L606.9 237.5 L607.2 237.5 L607.5 237.5 L607.8 237.5 L608.1 237.5 L608.4 237.5 L608.7 237.5 L609.0 237.5 L609.3 237.5 L609.6 237.5 L609.9 237.5 L610.2 237.5 L610.4 237.5 L610.7 237.5 L611.0 237.5 L611.3 237.5 L611.6 237.5 L611.9 237.5 L612.2 237.5 L612.5 237.5 L612.8 237.5 L613.1 237.5 L613.4 237.5 L613.7 237.5 L614.0 237.5 L614.3 237.5 L614.6 237.5 L614.9 237.5 L615.2 237.5 L615.4 237.5 L615.7 237.5 L616.0 237.5 L616.3 237.5 L616.6 237.5 L616.9 237.5 L617.2 237.5 L617.5 237.5 L617.8 237.6 L618.1 237.6 L618.4 237.6 L618.7 237.6 L619.0 237.6 L619.3 237.6 L619.6 237.6 L619.9 237.6 L620.1 237.6 L620.4 237.6 L620.7 237.6 L621.0 237.6 L621.3 237.6 L621.6 237.6 L621.9 237.6 L622.2 237.6 L622.5 237.6 L622.8 237.6 L623.1 237.6 L623.4 237.6 L623.7 237.6 L624.0 237.6 L624.3 237.6 L624.6 237.6 L624.9 237.6 L625.1 237.6 L625.4 237.6 L625.7 237.6 L626.0 237.6 L626.3 237.6 L626.6 237.6 L626.9 237.6 L627.2 237.6 L627.5 237.6 L627.8 237.6 L628.1 237.6 L628.4 237.6 L628.7 237.6 L629.0 237.6 L629.3 237.6 L629.6 237.6 L629.9 237.6 L630.1 237.6 L630.4 237.6 L630.7 237.6 L631.0 237.6 L631.3 237.6 L631.6 237.6 L631.9 237.6 L632.2 237.6 L632.5 237.6 L632.8 237.6 L633.1 237.6 L633.4 237.6 L633.7 237.6 L634.0 237.6 L634.3 237.6 L634.6 237.6 L634.8 237.6 L635.1 237.6 L635.4 237.6 L635.7 237.6 L636.0 237.6 L636.3 237.6 L636.6 237.6 L636.9 237.6 L637.2 237.6 L637.5 237.6 L637.8 237.6 L638.1 237.6 L638.4 237.6 L638.5 237.6 L638.7 237.6 L638.8 237.6 L639.0 237.6 L639.1 237.6 L639.3 237.6 L639.4 237.6 L639.6 237.6 L639.7 237.6 L639.8 237.6 L640.0 237.6 L640.1 237.6 L640.3 237.6 L640.4 237.6 L640.6 237.6 L640.7 237.6 L640.9 237.6 L641.0 237.6 L641.2 237.6 L641.3 237.6 L641.5 237.6 L641.6 237.6 L641.8 237.6 L641.9 237.6 L642.1 237.6 L642.2 237.6 L642.3 237.6 L642.5 237.6 L642.6 237.6 L642.8 237.6 L642.9 237.6 L643.1 237.6 L643.2 237.6 L643.4 237.6 L643.5 237.6 L643.7 237.6 L643.8 237.6 L644.0 237.6 L644.1 237.6 L644.3 237.6 L644.4 237.6 L644.6 237.6 L644.7 237.6 L644.8 237.6 L645.0 237.6 L645.1 237.6 L645.3 237.6 L645.4 237.6 L645.6 237.6 L645.7 237.6 L645.9 237.7 L646.0 237.7 L646.2 237.7 L646.3 237.7 L646.5 237.7 L646.6 237.7 L646.8 237.7 L646.9 237.7 L647.0 237.7 L647.2 237.7 L647.3 237.7 L647.5 237.7 L647.6 237.7 L647.8 237.7 L647.9 237.7 L648.1 237.7 L648.2 237.7 L648.4 237.7 L648.5 237.7 L648.7 237.7 L648.8 237.7 L649.0 237.7 L649.1 237.7 L649.3 237.7 L649.4 237.7 L649.5 237.7 L649.7 237.7 L649.8 237.7 L650.0 237.7 L650.1 237.7 L650.3 237.7 L650.4 237.7 L650.6 237.7 L650.7 237.7 L650.9 237.7 L651.0 237.7 L651.2 237.7 L651.3 237.7 L651.5 237.7 L651.6 237.7 L651.8 237.7 L651.9 237.7 L652.0 237.7 L652.2 237.7 L652.3 237.7 L652.5 237.7 L652.6 237.7 L652.8 237.7 L652.9 237.7 L653.1 237.7 L653.2 237.7 L653.4 237.7 L653.5 237.7 L653.7 237.7 L653.8 237.7 L654.0 237.7 L654.1 237.7 L654.3 237.7 L654.4 237.7 L654.5 237.7 L654.7 237.7 L654.8 237.7 L655.0 237.7 L655.1 237.7 L655.3 237.7 L655.4 237.7 L655.6 237.7 L655.7 237.7 L655.9 237.7 L656.0 237.7 L656.3 237.7 L656.6 237.7 L656.9 237.7 L657.2 237.7 L657.5 237.7 L657.8 237.7 L658.1 237.7 L658.4 237.7 L658.7 237.7 L659.0 237.7 L659.3 237.7 L659.5 237.7 L659.8 237.7 L660.1 237.7 L660.4 237.7 L660.7 237.7 L661.0 237.7 L661.3 237.7 L661.6 237.7 L661.9 237.7 L662.2 237.7 L662.5 237.7 L662.8 237.7 L663.1 237.7 L663.4 237.7 L663.7 237.7 L664.0 237.7 L664.2 237.7 L664.5 237.7 L664.8 237.7 L665.6 237.7 L666.3 237.7 L667.0 237.7 L667.8 237.7 L668.5 237.7 L669.2 237.7 L670.0 237.7 L670.7 237.7 L671.5 237.7 L672.2 237.7 L672.9 237.7 L673.7 237.7 L674.4 237.7 L675.1 237.7 L675.9 237.7 L676.6 237.7 L677.3 237.7 L678.1 237.7 L678.8 237.7 L679.5 237.7 L680.3 237.7 L681.0 237.7 L681.7 237.7 L682.5 237.7 L683.2 237.7 L683.8 237.7 L683.80 238.40 Z" fill="#e6e600"/>
<path d="M389.80 238.40 L389.8 237.5 L390.5 237.4 L391.3 237.4 L392.0 237.4 L392.7 237.4 L393.5 237.3 L394.2 237.3 L394.9 237.3 L395.7 237.3 L396.4 237.2 L397.1 237.2 L397.9 237.2 L398.6 237.1 L399.4 237.1 L400.1 237.1 L400.8 237.1 L401.6 237.0 L402.3 237.0 L403.0 237.0 L403.8 236.9 L404.5 236.9 L405.2 236.9 L406.0 236.8 L406.7 236.8 L407.4 236.8 L408.2 236.7 L408.9 236.7 L409.6 236.6 L410.4 236.6 L411.1 236.6 L411.8 236.5 L412.6 236.5 L413.3 236.4 L414.1 236.4 L414.8 236.4 L415.5 236.3 L416.3 236.3 L417.0 236.2 L417.7 236.2 L418.5 236.1 L419.2 236.1 L419.9 236.1 L420.7 236.0 L421.4 236.0 L422.1 235.9 L422.9 235.9 L423.6 235.8 L424.3 235.8 L425.1 235.7 L425.8 235.7 L426.5 235.6 L427.3 235.6 L428.0 235.5 L428.8 235.5 L429.5 235.4 L430.2 235.4 L431.0 235.3 L431.7 235.3 L432.4 235.2 L433.2 235.1 L433.9 235.1 L434.6 235.0 L435.4 235.0 L436.1 234.9 L436.8 234.9 L437.6 234.8 L438.3 234.7 L439.0 234.7 L439.8 234.6 L440.5 234.6 L441.2 234.5 L442.0 234.4 L442.7 234.4 L443.5 234.3 L444.2 234.3 L444.9 234.2 L445.7 234.1 L446.4 234.1 L447.1 234.0 L447.9 233.9 L448.6 233.9 L449.3 233.8 L450.1 233.7 L450.8 233.7 L451.5 233.6 L452.3 233.5 L453.0 233.4 L453.7 233.4 L454.5 233.3 L455.2 233.2 L455.9 233.2 L456.7 233.1 L457.4 233.0 L458.2 232.9 L458.9 232.9 L459.6 232.8 L460.4 232.7 L461.1 232.6 L461.8 232.6 L462.6 232.5 L463.3 232.4 L464.0 232.3 L464.8 232.2 L465.5 232.2 L466.2 232.1 L467.0 232.0 L467.7 231.9 L468.4 231.8 L469.2 231.8 L469.9 231.7 L470.6 231.6 L471.4 231.5 L472.1 231.4 L472.9 231.3 L473.6 231.2 L474.3 231.2 L475.1 231.1 L475.8 231.0 L476.5 230.9 L477.3 230.8 L478.0 230.7 L478.7 230.6 L479.5 230.5 L480.2 230.4 L480.9 230.3 L481.7 230.3 L482.4 230.2 L483.1 230.1 L483.9 230.0 L484.6 229.9 L485.3 229.8 L486.1 229.7 L486.8 229.6 L487.6 229.5 L488.3 229.4 L489.0 229.3 L489.8 229.2 L490.5 229.1 L491.2 229.0 L492.0 228.9 L492.7 228.8 L493.4 228.7 L494.2 228.6 L494.9 228.5 L495.6 228.4 L496.4 228.3 L497.1 228.2 L497.8 228.1 L498.6 228.0 L499.3 227.9 L500.0 227.8 L500.8 227.7 L501.5 227.6 L502.3 227.4 L503.0 227.3 L503.7 227.2 L504.5 227.1 L505.2 227.0 L505.9 226.9 L506.7 226.8 L507.4 226.7 L508.1 226.6 L508.9 226.4 L509.6 226.3 L510.3 226.2 L511.1 226.1 L511.8 226.0 L512.5 225.9 L513.3 225.8 L514.0 225.6 L514.8 225.5 L515.5 225.4 L516.2 225.3 L517.0 225.2 L517.7 225.0 L518.4 224.9 L519.2 224.8 L519.9 224.7 L520.6 224.6 L521.4 224.4 L522.1 224.3 L522.8 224.2 L523.6 224.1 L524.3 223.9 L525.0 223.8 L525.8 223.7 L526.5 223.6 L527.2 223.4 L528.0 223.3 L528.7 223.2 L529.4 223.0 L530.2 222.9 L530.9 222.8 L531.7 222.7 L532.4 222.5 L533.1 222.4 L533.9 222.3 L534.6 222.1 L535.3 222.0 L536.1 221.9 L536.8 221.7 L537.5 221.6 L538.3 221.5 L539.0 221.3 L539.7 221.2 L540.5 221.0 L541.2 220.9 L541.9 220.8 L542.7 220.6 L543.4 220.5 L544.1 220.4 L544.9 220.2 L545.6 220.1 L546.4 219.9 L547.1 219.8 L547.8 219.6 L548.6 219.5 L549.3 219.4 L550.0 219.2 L550.8 219.1 L551.5 218.9 L552.2 218.8 L553.0 218.6 L553.7 218.5 L554.4 218.3 L555.2 218.2 L555.9 218.0 L556.6 217.9 L557.4 217.7 L558.1 217.6 L558.8 217.4 L559.6 217.3 L560.3 217.1 L561.1 217.0 L561.8 216.8 L562.5 216.7 L563.3 216.5 L564.0 216.4 L564.7 216.2 L565.5 216.0 L566.2 215.9 L566.9 215.7 L567.7 215.6 L568.4 215.4 L569.1 215.3 L569.9 215.1 L570.6 214.9 L571.3 214.8 L572.1 214.6 L572.8 214.5 L573.5 214.3 L574.3 214.1 L575.0 214.0 L575.8 213.8 L576.5 213.6 L577.2 213.5 L578.0 213.3 L578.7 213.1 L579.4 213.0 L580.2 212.8 L580.9 212.6 L581.6 212.5 L582.4 212.3 L583.1 212.1 L583.8 212.0 L584.6 211.8 L585.3 211.6 L586.0 211.4 L586.8 211.3 L587.5 211.1 L588.2 210.9 L589.0 210.7 L589.7 210.6 L590.5 210.4 L591.2 210.2 L591.9 210.0 L592.7 209.9 L593.4 209.7 L594.1 209.5 L594.9 209.3 L595.6 209.2 L596.3 209.0 L597.1 208.8 L597.8 208.6 L598.1 208.5 L598.4 208.5 L598.7 208.4 L599.0 208.3 L599.3 208.2 L599.6 208.2 L599.9 208.1 L600.2 208.0 L600.5 208.0 L600.7 207.9 L601.0 207.8 L601.3 207.7 L601.6 207.7 L601.9 207.6 L602.2 207.5 L602.5 207.4 L602.8 207.4 L603.1 207.3 L603.4 207.2 L603.7 207.1 L604.0 207.1 L604.3 207.0 L604.6 206.9 L604.9 206.8 L605.2 206.8 L605.4 206.7 L605.7 206.6 L606.0 206.5 L606.3 206.5 L606.6 206.4 L606.9 206.3 L607.2 206.2 L607.5 206.2 L607.8 206.1 L608.1 206.0 L608.4 205.9 L608.7 205.9 L609.0 205.8 L609.3 205.7 L609.6 205.6 L609.9 205.6 L610.2 205.5 L610.4 205.4 L610.7 205.3 L611.0 205.3 L611.3 205.2 L611.6 205.1 L611.9 205.0 L612.2 204.9 L612.5 204.9 L612.8 204.8 L613.1 204.7 L613.4 204.6 L613.7 204.6 L614.0 204.5 L614.3 204.4 L614.6 204.3 L614.9 204.2 L615.2 204.2 L615.4 204.1 L615.7 204.0 L616.0 203.9 L616.3 203.9 L616.6 203.8 L616.9 203.7 L617.2 203.6 L617.5 203.5 L617.8 203.5 L618.1 203.4 L618.4 203.3 L618.7 203.2 L619.0 203.2 L619.3 203.1 L619.6 203.0 L619.9 202.9 L620.1 202.8 L620.4 202.8 L620.7 202.7 L621.0 202.6 L621.3 202.5 L621.6 202.4 L621.9 202.4 L622.2 202.3 L622.5 202.2 L622.8 202.1 L623.1 202.0 L623.4 202.0 L623.7 201.9 L624.0 201.8 L624.3 201.7 L624.6 201.6 L624.9 201.6 L625.1 201.5 L625.4 201.4 L625.7 201.3 L626.0 201.2 L626.3 201.1 L626.6 201.1 L626.9 201.0 L627.2 200.9 L627.5 200.8 L627.8 200.7 L628.1 200.7 L628.4 200.6 L628.7 200.5 L629.0 200.4 L629.3 200.3 L629.6 200.2 L629.9 200.2 L630.1 200.1 L630.4 200.0 L630.7 199.9 L631.0 199.8 L631.3 199.8 L631.6 199.7 L631.9 199.6 L632.2 199.5 L632.5 199.4 L632.8 199.3 L633.1 199.3 L633.4 199.2 L633.7 199.1 L634.0 199.0 L634.3 198.9 L634.6 198.8 L634.8 198.8 L635.1 198.7 L635.4 198.6 L635.7 198.5 L636.0 198.4 L636.3 198.3 L636.6 198.2 L636.9 198.2 L637.2 198.1 L637.5 198.0 L637.8 197.9 L638.1 197.8 L638.4 197.7 L638.5 197.7 L638.7 197.7 L638.8 197.6 L639.0 197.6 L639.1 197.5 L639.3 197.5 L639.4 197.4 L639.6 197.4 L639.7 197.4 L639.8 197.3 L640.0 197.3 L640.1 197.2 L640.3 197.2 L640.4 197.1 L640.6 197.1 L640.7 197.1 L640.9 197.0 L641.0 197.0 L641.2 196.9 L641.3 196.9 L641.5 196.8 L641.6 196.8 L641.8 196.8 L641.9 196.7 L642.1 196.7 L642.2 196.6 L642.3 196.6 L642.5 196.5 L642.6 196.5 L642.8 196.5 L642.9 196.4 L643.1 196.4 L643.2 196.3 L643.4 196.3 L643.5 196.2 L643.7 196.2 L643.8 196.2 L644.0 196.1 L644.1 196.1 L644.3 196.0 L644.4 196.0 L644.6 195.9 L644.7 195.9 L644.8 195.9 L645.0 195.8 L645.1 195.8 L645.3 195.7 L645.4 195.7 L645.6 195.6 L645.7 195.6 L645.9 195.5 L646.0 195.5 L646.2 195.5 L646.3 195.4 L646.5 195.4 L646.6 195.3 L646.8 195.3 L646.9 195.2 L647.0 195.2 L647.2 195.2 L647.3 195.1 L647.5 195.1 L647.6 195.0 L647.8 195.0 L647.9 194.9 L648.1 194.9 L648.2 194.8 L648.4 194.8 L648.5 194.8 L648.7 194.7 L648.8 194.7 L649.0 194.6 L649.1 194.6 L649.3 194.5 L649.4 194.5 L649.5 194.4 L649.7 194.4 L649.8 194.4 L650.0 194.3 L650.1 194.3 L650.3 194.2 L650.4 194.2 L650.6 194.1 L650.7 194.1 L650.9 194.0 L651.0 194.0 L651.2 194.0 L651.3 193.9 L651.5 193.9 L651.6 193.8 L651.8 193.8 L651.9 193.7 L652.0 193.7 L652.2 193.6 L652.3 193.6 L652.5 193.6 L652.6 193.5 L652.8 193.5 L652.9 193.4 L653.1 193.4 L653.2 193.3 L653.4 193.3 L653.5 193.2 L653.7 193.2 L653.8 193.2 L654.0 193.1 L654.1 193.1 L654.3 193.0 L654.4 193.0 L654.5 192.9 L654.7 192.9 L654.8 192.8 L655.0 192.8 L655.1 192.8 L655.3 192.7 L655.4 192.7 L655.6 192.6 L655.7 192.6 L655.9 192.5 L656.0 192.5 L656.3 192.4 L656.6 192.3 L656.9 192.2 L657.2 192.1 L657.5 192.0 L657.8 191.9 L658.1 191.8 L658.4 191.8 L658.7 191.7 L659.0 191.6 L659.3 191.5 L659.5 191.4 L659.8 191.3 L660.1 191.2 L660.4 191.1 L660.7 191.0 L661.0 190.9 L661.3 190.8 L661.6 190.8 L661.9 190.7 L662.2 190.6 L662.5 190.5 L662.8 190.4 L663.1 190.3 L663.4 190.2 L663.7 190.1 L664.0 190.0 L664.2 189.9 L664.5 189.8 L664.8 189.7 L665.6 189.5 L666.3 189.3 L667.0 189.0 L667.8 188.8 L668.5 188.6 L669.2 188.3 L670.0 188.1 L670.7 187.9 L671.5 187.6 L672.2 187.4 L672.9 187.1 L673.7 186.9 L674.4 186.7 L675.1 186.4 L675.9 186.2 L676.6 185.9 L677.3 185.7 L678.1 185.5 L678.8 185.2 L679.5 185.0 L680.3 184.7 L681.0 184.5 L681.7 184.2 L682.5 184.0 L683.2 183.7 L683.8 183.5 L683.80 238.40 Z" fill="rgb(185,185,185)" fill-opacity="0.56"/>
<path d="M390.00 236.00 C390.58 234.37 392.08 229.12 393.50 226.20 C394.92 223.28 397.03 218.32 398.50 218.50 C399.97 218.68 400.93 226.57 402.30 227.30 C403.67 228.03 405.25 225.47 406.70 222.90 C408.15 220.33 409.72 215.57 411.00 211.90 C412.28 208.23 413.32 204.05 414.40 200.90 C415.48 197.75 416.40 194.83 417.50 193.00 C418.60 191.17 419.92 189.73 421.00 189.90 C422.08 190.07 423.08 192.53 424.00 194.00 C424.92 195.47 425.53 197.82 426.50 198.70 C427.47 199.58 428.72 198.57 429.80 199.30 C430.88 200.03 431.72 203.75 433.00 203.10 C434.28 202.45 435.83 199.75 437.50 195.40 C439.17 191.05 441.48 181.42 443.00 177.00 C444.52 172.58 445.15 171.15 446.60 168.90 C448.05 166.65 450.12 163.25 451.70 163.50 C453.28 163.75 454.88 168.77 456.10 170.40 C457.32 172.03 458.02 172.03 459.00 173.30 C459.98 174.57 460.88 176.28 462.00 178.00 C463.12 179.72 464.53 181.85 465.70 183.60 C466.87 185.35 467.78 186.87 469.00 188.50 C470.22 190.13 471.23 192.33 473.00 193.40 C474.77 194.47 477.77 195.13 479.60 194.90 C481.43 194.67 482.53 193.15 484.00 192.00 C485.47 190.85 486.68 188.60 488.40 188.00 C490.12 187.40 492.53 189.07 494.30 188.40 C496.07 187.73 497.30 185.65 499.00 184.00 C500.70 182.35 502.83 180.33 504.50 178.50 C506.17 176.67 507.28 174.47 509.00 173.00 C510.72 171.53 512.97 170.12 514.80 169.70 C516.63 169.28 518.30 170.32 520.00 170.50 C521.70 170.68 523.30 169.97 525.00 170.80 C526.70 171.63 528.48 175.08 530.20 175.50 C531.92 175.92 534.00 173.80 535.30 173.30 C536.60 172.80 536.58 172.77 538.00 172.50 C539.42 172.23 542.13 173.78 543.80 171.70 C545.47 169.62 546.80 163.62 548.00 160.00 C549.20 156.38 550.00 152.60 551.00 150.00 C552.00 147.40 553.08 146.73 554.00 144.40 C554.92 142.07 555.63 138.80 556.50 136.00 C557.37 133.20 558.38 129.62 559.20 127.60 C560.02 125.58 560.55 124.03 561.40 123.90 C562.25 123.77 563.45 126.95 564.30 126.80 C565.15 126.65 565.77 123.97 566.50 123.00 C567.23 122.03 568.03 120.92 568.70 121.00 C569.37 121.08 569.88 122.77 570.50 123.50 C571.12 124.23 571.82 125.32 572.40 125.40 C572.98 125.48 573.40 124.48 574.00 124.00 C574.60 123.52 575.25 122.58 576.00 122.50 C576.75 122.42 577.77 123.13 578.50 123.50 C579.23 123.87 579.58 123.28 580.40 124.70 C581.22 126.12 582.30 129.82 583.40 132.00 C584.50 134.18 586.07 136.97 587.00 137.80 C587.93 138.63 588.27 137.73 589.00 137.00 C589.73 136.27 590.57 135.23 591.40 133.40 C592.23 131.57 593.15 128.43 594.00 126.00 C594.85 123.57 595.72 120.37 596.50 118.80 C597.28 117.23 597.92 118.07 598.70 116.60 C599.48 115.13 600.22 115.43 601.20 110.00 C602.18 104.57 603.72 90.67 604.60 84.00 C605.48 77.33 605.85 74.50 606.50 70.00 C607.15 65.50 607.88 62.33 608.50 57.00 C609.12 51.67 609.63 46.40 610.20 38.00 C610.77 29.60 611.38 6.60 611.90 6.60 C612.42 6.60 612.90 30.43 613.30 38.00 C613.70 45.57 613.98 49.25 614.30 52.00 C614.62 54.75 614.87 56.50 615.20 54.50 C615.53 52.50 615.87 46.05 616.30 40.00 C616.73 33.95 617.35 17.37 617.80 18.20 C618.25 19.03 618.57 35.65 619.00 45.00 C619.43 54.35 619.93 71.80 620.40 74.30 C620.87 76.80 621.30 63.58 621.80 60.00 C622.30 56.42 622.90 52.47 623.40 52.80 C623.90 53.13 624.37 58.13 624.80 62.00 C625.23 65.87 625.30 71.93 626.00 76.00 C626.70 80.07 628.08 84.73 629.00 86.40 C629.92 88.07 630.53 86.50 631.50 86.00 C632.47 85.50 633.80 81.90 634.80 83.40 C635.80 84.90 636.52 89.13 637.50 95.00 C638.48 100.87 639.68 112.47 640.70 118.60 C641.72 124.73 642.80 131.23 643.60 131.80 C644.40 132.37 644.97 124.30 645.50 122.00 C646.03 119.70 646.30 117.00 646.80 118.00 C647.30 119.00 647.88 124.00 648.50 128.00 C649.12 132.00 649.62 136.33 650.50 142.00 C651.38 147.67 652.88 157.83 653.80 162.00 C654.72 166.17 655.13 165.50 656.00 167.00 C656.87 168.50 658.00 169.92 659.00 171.00 C660.00 172.08 661.08 173.00 662.00 173.50 C662.92 174.00 663.67 173.58 664.50 174.00 C665.33 174.42 666.03 175.20 667.00 176.00 C667.97 176.80 669.38 178.47 670.30 178.80 C671.22 179.13 671.80 177.38 672.50 178.00 C673.20 178.62 673.75 181.00 674.50 182.50 C675.25 184.00 676.17 186.42 677.00 187.00 C677.83 187.58 678.67 185.83 679.50 186.00 C680.33 186.17 681.25 187.42 682.00 188.00 C682.75 188.58 683.67 189.25 684.00 189.50" fill="none" stroke="#ff0000" stroke-width="2" stroke-linejoin="round"/>
<path d="M390.00 234.90 C391.13 234.35 394.57 232.87 396.80 231.60 C399.03 230.33 401.20 229.48 403.40 227.30 C405.60 225.12 407.98 222.72 410.00 218.50 C412.02 214.28 413.67 206.40 415.50 202.00 C417.33 197.60 419.17 192.83 421.00 192.10 C422.83 191.37 424.67 196.03 426.50 197.60 C428.33 199.17 430.17 202.23 432.00 201.50 C433.83 200.77 435.50 196.78 437.50 193.20 C439.50 189.62 442.42 184.03 444.00 180.00 C445.58 175.97 445.72 171.65 447.00 169.00 C448.28 166.35 449.93 163.75 451.70 164.10 C453.47 164.45 455.63 168.22 457.60 171.10 C459.57 173.98 461.55 178.10 463.50 181.40 C465.45 184.70 467.10 188.75 469.30 190.90 C471.50 193.05 474.25 194.05 476.70 194.30 C479.15 194.55 481.57 193.45 484.00 192.40 C486.43 191.35 488.85 189.35 491.30 188.00 C493.75 186.65 496.25 186.25 498.70 184.30 C501.15 182.35 503.08 178.82 506.00 176.30 C508.92 173.78 513.03 169.93 516.20 169.20 C519.37 168.47 522.30 170.85 525.00 171.90 C527.70 172.95 529.95 175.27 532.40 175.50 C534.85 175.73 537.20 175.45 539.70 173.30 C542.20 171.15 545.25 166.55 547.40 162.60 C549.55 158.65 551.17 153.37 552.60 149.60 C554.03 145.83 554.78 143.18 556.00 140.00 C557.22 136.82 558.52 133.42 559.90 130.50 C561.28 127.58 562.72 124.45 564.30 122.50 C565.88 120.55 567.68 119.05 569.40 118.80 C571.12 118.55 572.77 119.42 574.60 121.00 C576.43 122.58 578.83 126.30 580.40 128.30 C581.97 130.30 582.78 131.65 584.00 133.00 C585.22 134.35 586.53 135.98 587.70 136.40 C588.87 136.82 590.02 136.23 591.00 135.50 C591.98 134.77 592.77 133.42 593.60 132.00 C594.43 130.58 595.27 128.72 596.00 127.00 C596.73 125.28 597.05 124.87 598.00 121.70 C598.95 118.53 600.45 114.38 601.70 108.00 C602.95 101.62 604.38 91.40 605.50 83.40 C606.62 75.40 607.48 66.90 608.40 60.00 C609.32 53.10 610.02 46.53 611.00 42.00 C611.98 37.47 613.22 33.13 614.30 32.80 C615.38 32.47 616.42 35.47 617.50 40.00 C618.58 44.53 619.62 53.50 620.80 60.00 C621.98 66.50 623.23 74.70 624.60 79.00 C625.97 83.30 627.53 85.80 629.00 85.80 C630.47 85.80 631.93 77.92 633.40 79.00 C634.87 80.08 636.33 83.98 637.80 92.30 C639.27 100.62 641.08 123.45 642.20 128.90 C643.32 134.35 643.68 127.45 644.50 125.00 C645.32 122.55 646.27 112.53 647.10 114.20 C647.93 115.87 648.75 128.53 649.50 135.00 C650.25 141.47 650.68 148.83 651.60 153.00 C652.52 157.17 653.90 158.17 655.00 160.00 C656.10 161.83 656.70 162.75 658.20 164.00 C659.70 165.25 661.80 166.70 664.00 167.50 C666.20 168.30 668.07 168.37 671.40 168.80 C674.73 169.23 681.90 169.88 684.00 170.10" fill="none" stroke="#1a1aff" stroke-width="2" stroke-linejoin="round"/>
<g stroke="#7c7c7c" stroke-width="1" fill="none"><path d="M390.0 238.0 V25.6 H684.0 V238.0"/></g>
<g stroke="#7c7c7c" stroke-width="1"><line x1="390.0" y1="177.5" x2="394.0" y2="177.5"/><line x1="390.0" y1="116.5" x2="394.0" y2="116.5"/><line x1="390.0" y1="55.5" x2="394.0" y2="55.5"/></g>
<text x="385.5" y="241.9" text-anchor="end" style="font-size:10px">0</text><text x="385.5" y="181.1" text-anchor="end" style="font-size:10px">1</text><text x="385.5" y="120.3" text-anchor="end" style="font-size:10px">2</text><text x="385.5" y="59.5" text-anchor="end" style="font-size:10px">3</text><text x="419.5" y="251.2" text-anchor="middle" style="font-size:10px;letter-spacing:0.6px">20</text><text x="478.3" y="251.2" text-anchor="middle" style="font-size:10px;letter-spacing:0.6px">40</text><text x="537.1" y="251.2" text-anchor="middle" style="font-size:10px;letter-spacing:0.6px">60</text><text x="595.9" y="251.2" text-anchor="middle" style="font-size:10px;letter-spacing:0.6px">80</text><text x="654.7" y="251.2" text-anchor="middle" style="font-size:10px;letter-spacing:0.6px">100</text>
<text x="537" y="270" text-anchor="middle" style="font-size:11px;letter-spacing:0.25px">Wavenumber (cm<tspan dy="-4.2" style="font-size:7px">−1</tspan><tspan dy="4.2">)</tspan></text>
<text transform="translate(368.6,131.7) rotate(-90)" text-anchor="middle" style="font-size:11px;letter-spacing:0.28px">Real conductivity (Ω<tspan dy="-4.2" style="font-size:7px">−1</tspan><tspan dy="4.2"> cm</tspan><tspan dy="-4.2" style="font-size:7px">−1</tspan><tspan dy="4.2">)</tspan></text>
<line x1="645" y1="36.9" x2="656.7" y2="36.9" stroke="#ff0000" stroke-width="1.8"/><text x="661.5" y="41.0" style="font-size:9.5px">Exp.</text>
<line x1="645" y1="51.6" x2="656.7" y2="51.6" stroke="#1a1aff" stroke-width="1.8"/><text x="661.5" y="55.6" style="font-size:9.5px">Fit</text>
<rect x="401.8" y="33.6" width="117.4" height="85.3" fill="#fff" stroke="#7c7c7c" stroke-width="1"/>
<g clip-path="url(#insclip)"><path d="M402.00 119.82 L403.23 113.09 L404.46 116.63 L405.69 118.30 L406.92 118.27 L408.15 116.57 L409.38 113.80 L410.61 118.45 L411.84 120.40 L413.07 116.95 L414.30 116.79 L415.53 117.01 L416.76 117.20 L417.99 117.23 L419.22 116.16 L420.45 115.89 L421.68 116.00 L422.91 116.09 L424.14 115.49 L425.37 115.08 L426.60 115.43 L427.83 114.27 L429.06 114.85 L430.29 114.05 L431.52 113.67 L432.75 113.41 L433.98 113.37 L435.21 113.65 L436.44 112.79 L437.67 112.96 L438.90 112.78 L440.13 112.29 L441.36 112.23 L442.59 111.51 L443.82 111.28 L445.05 111.18 L446.28 111.10 L447.51 110.30 L448.74 109.63 L449.97 109.35 L451.20 108.66 L452.43 107.96 L453.66 107.90 L454.89 107.25 L456.12 106.27 L457.35 106.09 L458.58 105.52 L459.81 105.35 L461.04 104.69 L462.27 103.73 L463.50 103.91 L464.73 102.53 L465.96 102.24 L467.19 101.96 L468.42 100.74 L469.65 100.46 L470.88 99.40 L472.11 99.41 L473.34 98.89 L474.57 98.09 L475.80 97.71 L477.03 96.44 L478.26 96.10 L479.49 95.29 L480.72 94.56 L481.95 93.73 L483.18 93.40 L484.41 92.79 L485.64 91.51 L486.87 90.80 L488.10 89.28 L489.33 89.17 L490.56 88.28 L491.79 87.98 L493.02 85.74 L494.25 83.28 L495.48 81.04 L496.71 79.31 L497.94 81.01 L499.17 78.14 L500.40 79.17 L501.63 79.20 L502.86 75.18 L504.09 74.27 L505.32 70.15 L506.55 70.80 L507.78 70.59 L509.01 65.41 L510.24 67.14 L511.47 69.02 L512.70 65.78 L513.93 60.29 L515.16 68.10 L516.39 70.41 L517.62 67.10 L518.85 69.86" fill="none" stroke="#ff5a3c" stroke-width="1" stroke-linejoin="round"/>
<path d="M402.00 121.29 L403.23 113.53 L404.46 115.65 L405.69 118.62 L406.92 119.90 L408.15 117.21 L409.38 113.92 L410.61 115.20 L411.84 119.73 L413.07 118.36 L414.30 115.70 L415.53 115.93 L416.76 115.56 L417.99 114.95 L419.22 114.77 L420.45 114.62 L421.68 113.88 L422.91 114.04 L424.14 114.08 L425.37 113.34 L426.60 113.67 L427.83 113.35 L429.06 113.30 L430.29 112.59 L431.52 112.14 L432.75 112.64 L433.98 112.44 L435.21 111.88 L436.44 111.32 L437.67 111.22 L438.90 111.45 L440.13 110.90 L441.36 111.36 L442.59 110.79 L443.82 110.20 L445.05 110.42 L446.28 109.23 L447.51 108.90 L448.74 107.98 L449.97 106.69 L451.20 105.92 L452.43 105.07 L453.66 104.28 L454.89 103.56 L456.12 102.04 L457.35 101.83 L458.58 101.53 L459.81 100.69 L461.04 100.43 L462.27 99.39 L463.50 99.64 L464.73 98.74 L465.96 97.72 L467.19 97.62 L468.42 96.63 L469.65 95.88 L470.88 95.53 L472.11 94.54 L473.34 93.97 L474.57 93.99 L475.80 93.13 L477.03 91.74 L478.26 91.79 L479.49 90.31 L480.72 89.92 L481.95 89.77 L483.18 88.78 L484.41 87.75 L485.64 86.96 L486.87 85.97 L488.10 84.69 L489.33 85.01 L490.56 81.94 L491.79 82.93 L493.02 83.09 L494.25 82.46 L495.48 79.93 L496.71 77.27 L497.94 77.98 L499.17 74.66 L500.40 68.43 L501.63 70.67 L502.86 66.76 L504.09 67.06 L505.32 67.11 L506.55 66.30 L507.78 63.77 L509.01 66.16 L510.24 61.32 L511.47 57.80 L512.70 60.66 L513.93 60.33 L515.16 63.63 L516.39 58.59 L517.62 53.80 L518.85 35.93" fill="none" stroke="#ff9a1e" stroke-width="1" stroke-linejoin="round"/>
<path d="M402.00 118.12 L403.23 113.32 L404.46 115.50 L405.69 118.36 L406.92 118.40 L408.15 116.20 L409.38 113.46 L410.61 114.80 L411.84 118.96 L413.07 117.54 L414.30 116.26 L415.53 114.89 L416.76 114.67 L417.99 113.87 L419.22 113.58 L420.45 113.03 L421.68 112.04 L422.91 111.92 L424.14 111.67 L425.37 111.99 L426.60 111.52 L427.83 110.60 L429.06 110.92 L430.29 109.94 L431.52 110.10 L432.75 109.30 L433.98 108.85 L435.21 109.41 L436.44 108.43 L437.67 108.12 L438.90 108.57 L440.13 108.09 L441.36 106.77 L442.59 106.71 L443.82 105.55 L445.05 104.95 L446.28 103.74 L447.51 103.73 L448.74 102.75 L449.97 102.28 L451.20 101.47 L452.43 100.14 L453.66 99.47 L454.89 98.53 L456.12 98.01 L457.35 97.45 L458.58 97.21 L459.81 97.03 L461.04 95.95 L462.27 96.14 L463.50 95.32 L464.73 94.82 L465.96 94.52 L467.19 93.28 L468.42 92.22 L469.65 91.49 L470.88 90.81 L472.11 89.27 L473.34 89.29 L474.57 87.44 L475.80 87.27 L477.03 86.46 L478.26 84.74 L479.49 84.61 L480.72 83.29 L481.95 82.61 L483.18 81.14 L484.41 80.28 L485.64 79.56 L486.87 79.52 L488.10 77.93 L489.33 77.91 L490.56 77.75 L491.79 75.29 L493.02 75.11 L494.25 72.27 L495.48 74.84 L496.71 68.97 L497.94 67.90 L499.17 69.61 L500.40 66.64 L501.63 66.64 L502.86 61.12 L504.09 61.80 L505.32 58.71 L506.55 64.37 L507.78 59.66 L509.01 59.55 L510.24 57.63 L511.47 54.70 L512.70 54.02 L513.93 51.29 L515.16 58.46 L516.39 50.67 L517.62 52.58 L518.85 52.92" fill="none" stroke="#a6e41e" stroke-width="1" stroke-linejoin="round"/>
<path d="M402.00 116.74 L403.23 112.50 L404.46 113.82 L405.69 114.52 L406.92 114.18 L408.15 114.27 L409.38 114.54 L410.61 113.78 L411.84 112.69 L413.07 111.10 L414.30 110.36 L415.53 109.05 L416.76 107.90 L417.99 106.78 L419.22 105.84 L420.45 105.50 L421.68 104.97 L422.91 105.03 L424.14 105.11 L425.37 104.58 L426.60 104.78 L427.83 104.74 L429.06 104.27 L430.29 103.82 L431.52 103.27 L432.75 101.90 L433.98 102.31 L435.21 102.37 L436.44 102.21 L437.67 101.88 L438.90 102.17 L440.13 101.79 L441.36 102.63 L442.59 102.57 L443.82 102.25 L445.05 101.98 L446.28 102.02 L447.51 101.12 L448.74 100.87 L449.97 100.28 L451.20 99.37 L452.43 98.61 L453.66 97.92 L454.89 96.87 L456.12 95.73 L457.35 94.99 L458.58 94.62 L459.81 92.98 L461.04 92.36 L462.27 92.36 L463.50 91.43 L464.73 91.10 L465.96 90.46 L467.19 89.67 L468.42 89.22 L469.65 87.31 L470.88 86.42 L472.11 85.10 L473.34 84.43 L474.57 82.96 L475.80 81.54 L477.03 80.20 L478.26 78.06 L479.49 76.57 L480.72 75.20 L481.95 72.67 L483.18 72.12 L484.41 71.83 L485.64 71.90 L486.87 71.29 L488.10 70.41 L489.33 69.72 L490.56 67.66 L491.79 64.58 L493.02 70.00 L494.25 67.52 L495.48 57.28 L496.71 69.16 L497.94 60.39 L499.17 62.35 L500.40 56.91 L501.63 48.75 L502.86 65.04 L504.09 48.26 L505.32 61.31 L506.55 44.19 L507.78 55.05 L509.01 45.80 L510.24 45.94 L511.47 55.99 L512.70 46.10 L513.93 61.82 L515.16 65.75 L516.39 56.25 L517.62 54.31 L518.85 58.21" fill="none" stroke="#2ee0c8" stroke-width="1" stroke-linejoin="round"/>
<path d="M402.00 116.28 L403.23 113.32 L404.46 113.25 L405.69 113.60 L406.92 113.14 L408.15 112.47 L409.38 112.41 L410.61 113.19 L411.84 112.22 L413.07 111.91 L414.30 111.74 L415.53 109.17 L416.76 107.67 L417.99 105.49 L419.22 103.96 L420.45 101.64 L421.68 102.06 L422.91 103.45 L424.14 104.14 L425.37 104.78 L426.60 103.37 L427.83 101.31 L429.06 100.79 L430.29 98.65 L431.52 96.36 L432.75 94.10 L433.98 95.91 L435.21 96.95 L436.44 98.69 L437.67 99.79 L438.90 100.51 L440.13 101.67 L441.36 101.48 L442.59 102.32 L443.82 102.26 L445.05 103.21 L446.28 102.70 L447.51 101.21 L448.74 100.70 L449.97 100.24 L451.20 100.21 L452.43 98.63 L453.66 97.91 L454.89 96.58 L456.12 95.92 L457.35 94.87 L458.58 93.92 L459.81 93.32 L461.04 92.68 L462.27 92.86 L463.50 92.75 L464.73 93.31 L465.96 93.50 L467.19 93.67 L468.42 92.42 L469.65 90.94 L470.88 90.92 L472.11 88.52 L473.34 85.75 L474.57 82.64 L475.80 80.12 L477.03 77.43 L478.26 76.20 L479.49 73.92 L480.72 71.75 L481.95 69.66 L483.18 70.91 L484.41 72.59 L485.64 72.71 L486.87 74.37 L488.10 74.70 L489.33 73.27 L490.56 71.64 L491.79 64.57 L493.02 64.24 L494.25 64.25 L495.48 71.51 L496.71 71.80 L497.94 56.59 L499.17 55.40 L500.40 60.83 L501.63 47.55 L502.86 57.55 L504.09 65.99 L505.32 58.24 L506.55 60.73 L507.78 58.94 L509.01 64.60 L510.24 56.43 L511.47 55.11 L512.70 68.72 L513.93 50.79 L515.16 51.94 L516.39 55.05 L517.62 70.59 L518.85 71.93" fill="none" stroke="#2a9cff" stroke-width="1" stroke-linejoin="round"/>
<path d="M402.00 116.91 L403.23 113.28 L404.46 112.36 L405.69 112.47 L406.92 112.84 L408.15 112.72 L409.38 112.64 L410.61 111.98 L411.84 112.04 L413.07 111.74 L414.30 110.53 L415.53 107.91 L416.76 106.13 L417.99 104.17 L419.22 102.69 L420.45 101.13 L421.68 100.90 L422.91 101.62 L424.14 102.71 L425.37 102.90 L426.60 101.18 L427.83 99.72 L429.06 98.77 L430.29 96.48 L431.52 94.45 L432.75 92.95 L433.98 93.39 L435.21 95.08 L436.44 96.26 L437.67 97.00 L438.90 98.36 L440.13 99.12 L441.36 100.05 L442.59 101.03 L443.82 101.03 L445.05 100.84 L446.28 101.21 L447.51 100.49 L448.74 99.81 L449.97 99.42 L451.20 98.22 L452.43 97.23 L453.66 95.67 L454.89 95.40 L456.12 94.39 L457.35 92.45 L458.58 92.18 L459.81 91.17 L461.04 90.17 L462.27 90.03 L463.50 90.15 L464.73 90.95 L465.96 90.75 L467.19 91.15 L468.42 89.64 L469.65 89.33 L470.88 88.41 L472.11 85.14 L473.34 82.33 L474.57 79.81 L475.80 76.63 L477.03 74.07 L478.26 71.61 L479.49 69.59 L480.72 68.05 L481.95 65.43 L483.18 66.64 L484.41 67.53 L485.64 69.61 L486.87 69.77 L488.10 71.51 L489.33 71.34 L490.56 68.77 L491.79 68.14 L493.02 62.58 L494.25 61.86 L495.48 46.54 L496.71 62.52 L497.94 53.46 L499.17 50.84 L500.40 53.61 L501.63 43.79 L502.86 60.98 L504.09 49.72 L505.32 52.28 L506.55 45.54 L507.78 47.30 L509.01 45.39 L510.24 44.46 L511.47 46.32 L512.70 44.78 L513.93 60.90 L515.16 52.66 L516.39 51.63 L517.62 68.70 L518.85 64.11" fill="none" stroke="#4c4cff" stroke-width="1" stroke-linejoin="round"/>
<path d="M402.00 115.56 L403.23 112.73 L404.46 112.78 L405.69 112.25 L406.92 111.99 L408.15 111.94 L409.38 112.18 L410.61 112.12 L411.84 110.98 L413.07 110.59 L414.30 110.35 L415.53 107.72 L416.76 105.96 L417.99 103.10 L419.22 101.71 L420.45 100.12 L421.68 99.35 L422.91 101.44 L424.14 102.62 L425.37 101.99 L426.60 100.51 L427.83 99.65 L429.06 98.62 L430.29 95.80 L431.52 93.45 L432.75 91.54 L433.98 91.97 L435.21 93.88 L436.44 95.74 L437.67 96.83 L438.90 97.52 L440.13 98.54 L441.36 99.01 L442.59 99.70 L443.82 99.90 L445.05 99.98 L446.28 100.47 L447.51 99.51 L448.74 99.00 L449.97 97.84 L451.20 97.77 L452.43 96.56 L453.66 94.62 L454.89 93.83 L456.12 93.29 L457.35 92.27 L458.58 91.54 L459.81 89.94 L461.04 89.72 L462.27 89.30 L463.50 89.04 L464.73 89.66 L465.96 90.32 L467.19 90.29 L468.42 88.92 L469.65 88.06 L470.88 86.44 L472.11 83.88 L473.34 81.55 L474.57 78.09 L475.80 74.80 L477.03 72.93 L478.26 70.93 L479.49 68.70 L480.72 66.31 L481.95 64.37 L483.18 64.78 L484.41 66.79 L485.64 67.82 L486.87 68.56 L488.10 69.57 L489.33 67.57 L490.56 64.70 L491.79 69.50 L493.02 55.01 L494.25 66.39 L495.48 58.48 L496.71 53.09 L497.94 64.10 L499.17 55.69 L500.40 56.45 L501.63 46.79 L502.86 58.84 L504.09 56.58 L505.32 52.17 L506.55 37.50 L507.78 52.01 L509.01 50.47 L510.24 48.09 L511.47 52.97 L512.70 56.12 L513.93 48.74 L515.16 53.29 L516.39 67.75 L517.62 70.24 L518.85 65.08" fill="none" stroke="#9446ff" stroke-width="1" stroke-linejoin="round"/>
</g>
<defs><clipPath id="insclip"><rect x="401.8" y="33.6" width="117.9" height="90.3"/></clipPath></defs>
<g class="ins"><line x1="407.3" y1="43.9" x2="417.8" y2="43.9" stroke="#9446ff" stroke-width="1.1"/><text x="422.5" y="46.8" style="font-size:7.9px">1.5 K</text>
<line x1="445.7" y1="43.9" x2="456.2" y2="43.9" stroke="#4c4cff" stroke-width="1.1"/><text x="460.9" y="46.8" style="font-size:7.9px">5 K</text>
<line x1="407.3" y1="53.2" x2="417.8" y2="53.2" stroke="#2a9cff" stroke-width="1.1"/><text x="422.5" y="56.1" style="font-size:7.9px">10 K</text>
<line x1="445.7" y1="53.2" x2="456.2" y2="53.2" stroke="#2ee0c8" stroke-width="1.1"/><text x="460.9" y="56.1" style="font-size:7.9px">20 K</text>
<line x1="407.3" y1="62.4" x2="417.8" y2="62.4" stroke="#a6e41e" stroke-width="1.1"/><text x="422.5" y="65.3" style="font-size:7.9px">50 K</text>
<line x1="445.7" y1="62.4" x2="456.2" y2="62.4" stroke="#ff9a1e" stroke-width="1.1"/><text x="460.9" y="65.3" style="font-size:7.9px">100 K</text>
<line x1="407.3" y1="71.6" x2="417.8" y2="71.6" stroke="#ff5a3c" stroke-width="1.1"/><text x="422.5" y="74.5" style="font-size:7.9px">150 K</text>
<g stroke="#7c7c7c" stroke-width="0.8"><line x1="420.7" y1="118.9" x2="420.7" y2="115.9"/><line x1="445.3" y1="118.9" x2="445.3" y2="115.9"/><line x1="469.9" y1="118.9" x2="469.9" y2="115.9"/><line x1="494.5" y1="118.9" x2="494.5" y2="115.9"/><line x1="519.2" y1="90.6" x2="516.2" y2="90.6"/><line x1="519.2" y1="62.3" x2="516.2" y2="62.3"/></g>
<text x="420.7" y="130.1" text-anchor="middle" style="font-size:8.8px">20</text><text x="445.3" y="130.1" text-anchor="middle" style="font-size:8.8px">40</text><text x="469.9" y="130.1" text-anchor="middle" style="font-size:8.8px">60</text><text x="494.5" y="130.1" text-anchor="middle" style="font-size:8.8px">80</text><text x="519.1" y="130.1" text-anchor="middle" style="font-size:8.8px">100</text><text x="523.8" y="93.7" style="font-size:8.8px">1</text><text x="523.8" y="65.4" style="font-size:8.8px">2</text><text x="523.8" y="37.1" style="font-size:8.8px">3</text>
</g><text x="461.2" y="148.8" text-anchor="middle" style="font-size:9.6px;letter-spacing:0.2px">Wavenumber (cm<tspan dy="-3.5" style="font-size:6.5px">−1</tspan><tspan dy="3.5">)</tspan></text>
<text transform="translate(552.6,75.8) rotate(90)" text-anchor="middle" style="font-size:10.1px">Real conductivity</text>
<text transform="translate(541.3,75.8) rotate(90)" text-anchor="middle" style="font-size:10.1px">(Ω<tspan dy="-3.8" style="font-size:6px">−1</tspan><tspan dy="3.8"> cm</tspan><tspan dy="-3.8" style="font-size:6px">−1</tspan><tspan dy="3.8">)</tspan></text>
</svg>
</body></html>
